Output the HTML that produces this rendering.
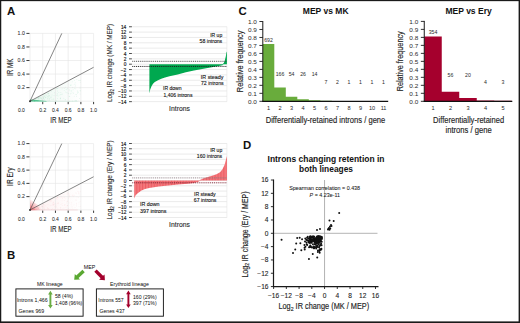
<!DOCTYPE html>
<html><head><meta charset="utf-8"><style>
html,body{margin:0;padding:0;background:#fff;}
body{width:520px;height:323px;overflow:hidden;}
svg{display:block;font-family:"Liberation Sans", sans-serif;}
</style></head><body>
<svg width="520" height="323" viewBox="0 0 520 323">
<rect x="0" y="0" width="520" height="323" fill="#fff"/>
<defs>
<pattern id="rs" patternUnits="userSpaceOnUse" width="2.9" height="10">
<rect width="2.9" height="10" fill="#f4777c"/><rect width="1.1" height="10" fill="#ec5e64"/>
</pattern>
</defs>
<linearGradient id="hg" x1="0" y1="0" x2="1" y2="0"><stop offset="0" stop-color="#e9f6ef" stop-opacity="1"/><stop offset="1" stop-color="#e9f6ef" stop-opacity="0"/></linearGradient>
<path d="M30.00,101.20 L80.88,74.08 L80.88,101.20 Z" fill="url(#hg)"/>
<line x1="30.00" y1="101.20" x2="30.00" y2="33.40" stroke="#e4e4e4" stroke-width="0.6"/>
<line x1="30.00" y1="101.20" x2="93.60" y2="101.20" stroke="#e4e4e4" stroke-width="0.6"/>
<line x1="42.72" y1="101.20" x2="42.72" y2="33.40" stroke="#e4e4e4" stroke-width="0.6"/>
<line x1="30.00" y1="87.64" x2="93.60" y2="87.64" stroke="#e4e4e4" stroke-width="0.6"/>
<line x1="55.44" y1="101.20" x2="55.44" y2="33.40" stroke="#e4e4e4" stroke-width="0.6"/>
<line x1="30.00" y1="74.08" x2="93.60" y2="74.08" stroke="#e4e4e4" stroke-width="0.6"/>
<line x1="68.16" y1="101.20" x2="68.16" y2="33.40" stroke="#e4e4e4" stroke-width="0.6"/>
<line x1="30.00" y1="60.52" x2="93.60" y2="60.52" stroke="#e4e4e4" stroke-width="0.6"/>
<line x1="80.88" y1="101.20" x2="80.88" y2="33.40" stroke="#e4e4e4" stroke-width="0.6"/>
<line x1="30.00" y1="46.96" x2="93.60" y2="46.96" stroke="#e4e4e4" stroke-width="0.6"/>
<line x1="93.60" y1="101.20" x2="93.60" y2="33.40" stroke="#e4e4e4" stroke-width="0.6"/>
<line x1="30.00" y1="33.40" x2="93.60" y2="33.40" stroke="#e4e4e4" stroke-width="0.6"/>
<circle cx="39.59" cy="97.30" r="0.5" fill="#2cb878" fill-opacity="0.1"/>
<circle cx="69.61" cy="96.35" r="0.5" fill="#2cb878" fill-opacity="0.1"/>
<circle cx="56.81" cy="95.42" r="0.5" fill="#2cb878" fill-opacity="0.1"/>
<circle cx="64.26" cy="88.24" r="0.5" fill="#2cb878" fill-opacity="0.1"/>
<circle cx="37.66" cy="101.10" r="0.5" fill="#2cb878" fill-opacity="0.1"/>
<circle cx="73.05" cy="92.26" r="0.5" fill="#2cb878" fill-opacity="0.1"/>
<circle cx="69.54" cy="101.16" r="0.5" fill="#2cb878" fill-opacity="0.1"/>
<circle cx="54.42" cy="92.75" r="0.5" fill="#2cb878" fill-opacity="0.1"/>
<circle cx="44.09" cy="94.81" r="0.5" fill="#2cb878" fill-opacity="0.1"/>
<circle cx="76.18" cy="100.52" r="0.5" fill="#2cb878" fill-opacity="0.1"/>
<circle cx="34.39" cy="100.06" r="0.5" fill="#2cb878" fill-opacity="0.1"/>
<circle cx="77.98" cy="92.43" r="0.5" fill="#2cb878" fill-opacity="0.1"/>
<circle cx="43.51" cy="98.46" r="0.5" fill="#2cb878" fill-opacity="0.1"/>
<circle cx="34.57" cy="100.71" r="0.5" fill="#2cb878" fill-opacity="0.1"/>
<circle cx="54.07" cy="95.48" r="0.5" fill="#2cb878" fill-opacity="0.1"/>
<circle cx="44.30" cy="99.62" r="0.5" fill="#2cb878" fill-opacity="0.1"/>
<circle cx="43.62" cy="98.20" r="0.5" fill="#2cb878" fill-opacity="0.1"/>
<circle cx="47.00" cy="101.02" r="0.5" fill="#2cb878" fill-opacity="0.1"/>
<circle cx="73.13" cy="89.69" r="0.5" fill="#2cb878" fill-opacity="0.1"/>
<circle cx="63.82" cy="98.18" r="0.5" fill="#2cb878" fill-opacity="0.1"/>
<circle cx="80.52" cy="80.36" r="0.5" fill="#2cb878" fill-opacity="0.1"/>
<circle cx="38.95" cy="99.77" r="0.5" fill="#2cb878" fill-opacity="0.1"/>
<circle cx="67.59" cy="88.37" r="0.5" fill="#2cb878" fill-opacity="0.1"/>
<circle cx="77.85" cy="91.51" r="0.5" fill="#2cb878" fill-opacity="0.1"/>
<circle cx="72.77" cy="87.45" r="0.5" fill="#2cb878" fill-opacity="0.1"/>
<circle cx="47.65" cy="96.22" r="0.5" fill="#2cb878" fill-opacity="0.1"/>
<circle cx="75.27" cy="82.82" r="0.5" fill="#2cb878" fill-opacity="0.1"/>
<circle cx="57.28" cy="93.49" r="0.5" fill="#2cb878" fill-opacity="0.1"/>
<circle cx="34.83" cy="100.64" r="0.5" fill="#2cb878" fill-opacity="0.1"/>
<circle cx="71.22" cy="93.01" r="0.5" fill="#2cb878" fill-opacity="0.1"/>
<circle cx="41.43" cy="98.19" r="0.5" fill="#2cb878" fill-opacity="0.1"/>
<circle cx="66.72" cy="89.32" r="0.5" fill="#2cb878" fill-opacity="0.1"/>
<circle cx="51.05" cy="96.77" r="0.5" fill="#2cb878" fill-opacity="0.1"/>
<circle cx="57.43" cy="90.96" r="0.5" fill="#2cb878" fill-opacity="0.1"/>
<circle cx="58.03" cy="95.91" r="0.5" fill="#2cb878" fill-opacity="0.1"/>
<circle cx="56.54" cy="100.82" r="0.5" fill="#2cb878" fill-opacity="0.1"/>
<circle cx="35.25" cy="99.43" r="0.5" fill="#2cb878" fill-opacity="0.1"/>
<circle cx="80.08" cy="86.95" r="0.5" fill="#2cb878" fill-opacity="0.1"/>
<circle cx="51.95" cy="99.41" r="0.5" fill="#2cb878" fill-opacity="0.1"/>
<circle cx="57.14" cy="88.42" r="0.5" fill="#2cb878" fill-opacity="0.1"/>
<circle cx="69.93" cy="90.86" r="0.5" fill="#2cb878" fill-opacity="0.1"/>
<circle cx="74.22" cy="96.28" r="0.5" fill="#2cb878" fill-opacity="0.1"/>
<circle cx="57.69" cy="88.55" r="0.5" fill="#2cb878" fill-opacity="0.1"/>
<circle cx="60.74" cy="94.43" r="0.5" fill="#2cb878" fill-opacity="0.1"/>
<circle cx="46.02" cy="96.99" r="0.5" fill="#2cb878" fill-opacity="0.1"/>
<circle cx="78.83" cy="101.07" r="0.5" fill="#2cb878" fill-opacity="0.1"/>
<circle cx="70.56" cy="85.24" r="0.5" fill="#2cb878" fill-opacity="0.1"/>
<circle cx="75.45" cy="85.05" r="0.5" fill="#2cb878" fill-opacity="0.1"/>
<circle cx="71.78" cy="90.81" r="0.5" fill="#2cb878" fill-opacity="0.1"/>
<circle cx="59.96" cy="95.08" r="0.5" fill="#2cb878" fill-opacity="0.1"/>
<circle cx="35.86" cy="98.76" r="0.5" fill="#2cb878" fill-opacity="0.1"/>
<circle cx="60.37" cy="98.29" r="0.5" fill="#2cb878" fill-opacity="0.1"/>
<circle cx="57.26" cy="94.86" r="0.5" fill="#2cb878" fill-opacity="0.1"/>
<circle cx="50.20" cy="97.85" r="0.5" fill="#2cb878" fill-opacity="0.1"/>
<circle cx="58.87" cy="92.57" r="0.5" fill="#2cb878" fill-opacity="0.1"/>
<circle cx="62.39" cy="94.08" r="0.5" fill="#2cb878" fill-opacity="0.1"/>
<circle cx="34.51" cy="100.70" r="0.5" fill="#2cb878" fill-opacity="0.1"/>
<circle cx="41.63" cy="97.94" r="0.5" fill="#2cb878" fill-opacity="0.1"/>
<circle cx="74.25" cy="84.25" r="0.5" fill="#2cb878" fill-opacity="0.1"/>
<circle cx="71.20" cy="85.06" r="0.5" fill="#2cb878" fill-opacity="0.1"/>
<circle cx="45.36" cy="95.00" r="0.5" fill="#2cb878" fill-opacity="0.1"/>
<circle cx="65.29" cy="99.79" r="0.5" fill="#2cb878" fill-opacity="0.1"/>
<circle cx="33.98" cy="101.17" r="0.5" fill="#2cb878" fill-opacity="0.1"/>
<circle cx="69.22" cy="96.50" r="0.5" fill="#2cb878" fill-opacity="0.1"/>
<circle cx="38.40" cy="98.68" r="0.5" fill="#2cb878" fill-opacity="0.1"/>
<circle cx="49.61" cy="100.55" r="0.5" fill="#2cb878" fill-opacity="0.1"/>
<circle cx="40.79" cy="98.47" r="0.5" fill="#2cb878" fill-opacity="0.1"/>
<circle cx="41.20" cy="99.73" r="0.5" fill="#2cb878" fill-opacity="0.1"/>
<circle cx="67.12" cy="93.10" r="0.5" fill="#2cb878" fill-opacity="0.1"/>
<circle cx="48.54" cy="96.99" r="0.5" fill="#2cb878" fill-opacity="0.1"/>
<circle cx="34.31" cy="100.40" r="0.5" fill="#2cb878" fill-opacity="0.1"/>
<circle cx="53.26" cy="99.10" r="0.5" fill="#2cb878" fill-opacity="0.1"/>
<circle cx="38.37" cy="97.59" r="0.5" fill="#2cb878" fill-opacity="0.1"/>
<circle cx="57.51" cy="98.44" r="0.5" fill="#2cb878" fill-opacity="0.1"/>
<circle cx="62.07" cy="88.63" r="0.5" fill="#2cb878" fill-opacity="0.1"/>
<circle cx="34.17" cy="101.16" r="0.5" fill="#2cb878" fill-opacity="0.1"/>
<circle cx="40.17" cy="97.69" r="0.5" fill="#2cb878" fill-opacity="0.1"/>
<circle cx="40.82" cy="97.54" r="0.5" fill="#2cb878" fill-opacity="0.1"/>
<circle cx="65.53" cy="91.92" r="0.5" fill="#2cb878" fill-opacity="0.1"/>
<circle cx="43.70" cy="94.79" r="0.5" fill="#2cb878" fill-opacity="0.1"/>
<circle cx="71.24" cy="90.98" r="0.5" fill="#2cb878" fill-opacity="0.1"/>
<circle cx="43.83" cy="96.90" r="0.5" fill="#2cb878" fill-opacity="0.1"/>
<circle cx="52.02" cy="95.12" r="0.5" fill="#2cb878" fill-opacity="0.1"/>
<circle cx="48.50" cy="95.60" r="0.5" fill="#2cb878" fill-opacity="0.1"/>
<circle cx="35.98" cy="100.34" r="0.5" fill="#2cb878" fill-opacity="0.1"/>
<circle cx="79.35" cy="80.47" r="0.5" fill="#2cb878" fill-opacity="0.1"/>
<circle cx="47.79" cy="93.87" r="0.5" fill="#2cb878" fill-opacity="0.1"/>
<circle cx="47.98" cy="93.10" r="0.5" fill="#2cb878" fill-opacity="0.1"/>
<circle cx="68.66" cy="93.48" r="0.5" fill="#2cb878" fill-opacity="0.1"/>
<circle cx="45.22" cy="101.14" r="0.5" fill="#2cb878" fill-opacity="0.1"/>
<circle cx="75.09" cy="100.38" r="0.5" fill="#2cb878" fill-opacity="0.1"/>
<circle cx="72.27" cy="81.69" r="0.5" fill="#2cb878" fill-opacity="0.1"/>
<circle cx="60.38" cy="98.70" r="0.5" fill="#2cb878" fill-opacity="0.1"/>
<circle cx="74.57" cy="80.38" r="0.5" fill="#2cb878" fill-opacity="0.1"/>
<circle cx="66.76" cy="92.23" r="0.5" fill="#2cb878" fill-opacity="0.1"/>
<circle cx="51.21" cy="97.67" r="0.5" fill="#2cb878" fill-opacity="0.1"/>
<circle cx="42.99" cy="97.00" r="0.5" fill="#2cb878" fill-opacity="0.1"/>
<circle cx="53.83" cy="98.98" r="0.5" fill="#2cb878" fill-opacity="0.1"/>
<circle cx="38.16" cy="98.59" r="0.5" fill="#2cb878" fill-opacity="0.1"/>
<circle cx="47.30" cy="97.05" r="0.5" fill="#2cb878" fill-opacity="0.1"/>
<circle cx="48.70" cy="93.38" r="0.5" fill="#2cb878" fill-opacity="0.1"/>
<circle cx="76.09" cy="100.80" r="0.5" fill="#2cb878" fill-opacity="0.1"/>
<circle cx="42.76" cy="99.19" r="0.5" fill="#2cb878" fill-opacity="0.1"/>
<circle cx="80.26" cy="82.33" r="0.5" fill="#2cb878" fill-opacity="0.1"/>
<circle cx="49.35" cy="99.22" r="0.5" fill="#2cb878" fill-opacity="0.1"/>
<circle cx="65.35" cy="86.99" r="0.5" fill="#2cb878" fill-opacity="0.1"/>
<circle cx="77.65" cy="93.34" r="0.5" fill="#2cb878" fill-opacity="0.1"/>
<circle cx="75.27" cy="86.28" r="0.5" fill="#2cb878" fill-opacity="0.1"/>
<circle cx="56.29" cy="88.77" r="0.5" fill="#2cb878" fill-opacity="0.1"/>
<circle cx="44.37" cy="96.20" r="0.5" fill="#2cb878" fill-opacity="0.1"/>
<circle cx="37.22" cy="100.61" r="0.5" fill="#2cb878" fill-opacity="0.1"/>
<circle cx="76.63" cy="96.44" r="0.5" fill="#2cb878" fill-opacity="0.1"/>
<circle cx="69.39" cy="89.86" r="0.5" fill="#2cb878" fill-opacity="0.1"/>
<circle cx="73.30" cy="93.55" r="0.5" fill="#2cb878" fill-opacity="0.1"/>
<circle cx="49.41" cy="98.49" r="0.5" fill="#2cb878" fill-opacity="0.1"/>
<circle cx="74.56" cy="88.29" r="0.5" fill="#2cb878" fill-opacity="0.1"/>
<circle cx="78.70" cy="80.47" r="0.5" fill="#2cb878" fill-opacity="0.1"/>
<circle cx="39.64" cy="98.65" r="0.5" fill="#2cb878" fill-opacity="0.1"/>
<circle cx="38.15" cy="101.05" r="0.5" fill="#2cb878" fill-opacity="0.1"/>
<circle cx="36.67" cy="98.43" r="0.5" fill="#2cb878" fill-opacity="0.1"/>
<circle cx="70.77" cy="84.99" r="0.5" fill="#2cb878" fill-opacity="0.1"/>
<circle cx="49.44" cy="95.46" r="0.5" fill="#2cb878" fill-opacity="0.1"/>
<circle cx="70.48" cy="93.86" r="0.5" fill="#2cb878" fill-opacity="0.1"/>
<circle cx="60.41" cy="97.94" r="0.5" fill="#2cb878" fill-opacity="0.1"/>
<circle cx="37.08" cy="100.29" r="0.5" fill="#2cb878" fill-opacity="0.1"/>
<circle cx="75.67" cy="88.83" r="0.5" fill="#2cb878" fill-opacity="0.1"/>
<circle cx="77.31" cy="90.81" r="0.5" fill="#2cb878" fill-opacity="0.1"/>
<circle cx="46.40" cy="95.01" r="0.5" fill="#2cb878" fill-opacity="0.1"/>
<circle cx="72.66" cy="100.95" r="0.5" fill="#2cb878" fill-opacity="0.1"/>
<circle cx="65.16" cy="99.65" r="0.5" fill="#2cb878" fill-opacity="0.1"/>
<circle cx="38.67" cy="97.52" r="0.5" fill="#2cb878" fill-opacity="0.1"/>
<circle cx="35.09" cy="100.61" r="0.5" fill="#2cb878" fill-opacity="0.1"/>
<circle cx="80.32" cy="91.04" r="0.5" fill="#2cb878" fill-opacity="0.1"/>
<circle cx="38.69" cy="100.50" r="0.5" fill="#2cb878" fill-opacity="0.1"/>
<circle cx="44.70" cy="95.95" r="0.5" fill="#2cb878" fill-opacity="0.1"/>
<circle cx="38.09" cy="97.67" r="0.5" fill="#2cb878" fill-opacity="0.1"/>
<circle cx="51.22" cy="91.32" r="0.5" fill="#2cb878" fill-opacity="0.1"/>
<circle cx="76.55" cy="94.63" r="0.5" fill="#2cb878" fill-opacity="0.1"/>
<circle cx="45.27" cy="97.71" r="0.5" fill="#2cb878" fill-opacity="0.1"/>
<circle cx="37.96" cy="98.71" r="0.5" fill="#2cb878" fill-opacity="0.1"/>
<circle cx="35.07" cy="101.17" r="0.5" fill="#2cb878" fill-opacity="0.1"/>
<circle cx="80.05" cy="94.10" r="0.5" fill="#2cb878" fill-opacity="0.1"/>
<circle cx="61.64" cy="94.37" r="0.5" fill="#2cb878" fill-opacity="0.1"/>
<circle cx="48.12" cy="100.65" r="0.5" fill="#2cb878" fill-opacity="0.1"/>
<circle cx="76.75" cy="79.45" r="0.5" fill="#2cb878" fill-opacity="0.1"/>
<circle cx="79.44" cy="98.56" r="0.5" fill="#2cb878" fill-opacity="0.1"/>
<circle cx="43.44" cy="97.22" r="0.5" fill="#2cb878" fill-opacity="0.1"/>
<circle cx="79.92" cy="88.20" r="0.5" fill="#2cb878" fill-opacity="0.1"/>
<circle cx="66.01" cy="89.77" r="0.5" fill="#2cb878" fill-opacity="0.1"/>
<circle cx="45.54" cy="97.16" r="0.5" fill="#2cb878" fill-opacity="0.1"/>
<circle cx="47.84" cy="99.09" r="0.5" fill="#2cb878" fill-opacity="0.1"/>
<circle cx="37.06" cy="100.25" r="0.5" fill="#2cb878" fill-opacity="0.1"/>
<circle cx="80.09" cy="90.44" r="0.5" fill="#2cb878" fill-opacity="0.1"/>
<circle cx="64.28" cy="90.62" r="0.5" fill="#2cb878" fill-opacity="0.1"/>
<circle cx="78.05" cy="92.20" r="0.5" fill="#2cb878" fill-opacity="0.1"/>
<circle cx="47.81" cy="98.40" r="0.5" fill="#2cb878" fill-opacity="0.1"/>
<circle cx="48.29" cy="93.77" r="0.5" fill="#2cb878" fill-opacity="0.1"/>
<circle cx="75.80" cy="94.55" r="0.5" fill="#2cb878" fill-opacity="0.1"/>
<circle cx="49.13" cy="96.21" r="0.5" fill="#2cb878" fill-opacity="0.1"/>
<circle cx="60.80" cy="92.40" r="0.5" fill="#2cb878" fill-opacity="0.1"/>
<path d="M30.00,99.60 L36.36,100.00 L46.54,100.90 L46.54,101.50 L30.00,101.60 Z" fill="#2cb878" fill-opacity="0.75"/>
<line x1="30.00" y1="101.30" x2="77.70" y2="101.30" stroke="#2cb878" stroke-width="0.5" stroke-opacity="0.25"/>
<line x1="30.00" y1="101.20" x2="61.80" y2="33.40" stroke="#555" stroke-width="0.72"/>
<line x1="30.00" y1="101.20" x2="93.60" y2="67.30" stroke="#555" stroke-width="0.72"/>
<circle cx="30.00" cy="101.20" r="1.0" fill="#333"/>
<line x1="26.40" y1="87.64" x2="29.50" y2="87.64" stroke="#222" stroke-width="0.9"/>
<text x="24.80" y="89.44" font-size="5.2" text-anchor="end" fill="#2a2a2a" stroke="#2a2a2a" stroke-width="0.05">0.2</text>
<line x1="26.40" y1="74.08" x2="29.50" y2="74.08" stroke="#222" stroke-width="0.9"/>
<text x="24.80" y="75.88" font-size="5.2" text-anchor="end" fill="#2a2a2a" stroke="#2a2a2a" stroke-width="0.05">0.4</text>
<line x1="26.40" y1="60.52" x2="29.50" y2="60.52" stroke="#222" stroke-width="0.9"/>
<text x="24.80" y="62.32" font-size="5.2" text-anchor="end" fill="#2a2a2a" stroke="#2a2a2a" stroke-width="0.05">0.6</text>
<line x1="26.40" y1="46.96" x2="29.50" y2="46.96" stroke="#222" stroke-width="0.9"/>
<text x="24.80" y="48.76" font-size="5.2" text-anchor="end" fill="#2a2a2a" stroke="#2a2a2a" stroke-width="0.05">0.8</text>
<line x1="26.40" y1="33.40" x2="29.50" y2="33.40" stroke="#222" stroke-width="0.9"/>
<text x="24.80" y="35.20" font-size="5.2" text-anchor="end" fill="#2a2a2a" stroke="#2a2a2a" stroke-width="0.05">1.0</text>
<line x1="42.72" y1="101.90" x2="42.72" y2="104.20" stroke="#222" stroke-width="0.9"/>
<text x="42.72" y="111.90" font-size="5.0" text-anchor="middle" fill="#2a2a2a" stroke="#2a2a2a" stroke-width="0.05">0.2</text>
<line x1="55.44" y1="101.90" x2="55.44" y2="104.20" stroke="#222" stroke-width="0.9"/>
<text x="55.44" y="111.90" font-size="5.0" text-anchor="middle" fill="#2a2a2a" stroke="#2a2a2a" stroke-width="0.05">0.4</text>
<line x1="68.16" y1="101.90" x2="68.16" y2="104.20" stroke="#222" stroke-width="0.9"/>
<text x="68.16" y="111.90" font-size="5.0" text-anchor="middle" fill="#2a2a2a" stroke="#2a2a2a" stroke-width="0.05">0.6</text>
<line x1="80.88" y1="101.90" x2="80.88" y2="104.20" stroke="#222" stroke-width="0.9"/>
<text x="80.88" y="111.90" font-size="5.0" text-anchor="middle" fill="#2a2a2a" stroke="#2a2a2a" stroke-width="0.05">0.8</text>
<line x1="93.60" y1="101.90" x2="93.60" y2="104.20" stroke="#222" stroke-width="0.9"/>
<text x="93.60" y="111.90" font-size="5.0" text-anchor="middle" fill="#2a2a2a" stroke="#2a2a2a" stroke-width="0.05">1.0</text>
<text x="21.40" y="111.90" font-size="5.0" text-anchor="middle" fill="#2a2a2a" stroke="#2a2a2a" stroke-width="0.05">0.0</text>
<text x="61.00" y="123.20" font-size="8.2" text-anchor="middle" fill="#2a2a2a" stroke="#2a2a2a" stroke-width="0.12" textLength="21.40" lengthAdjust="spacingAndGlyphs">IR MEP</text>
<text x="13.00" y="67.30" font-size="8.2" text-anchor="middle" fill="#2a2a2a" stroke="#2a2a2a" stroke-width="0.12" textLength="17.20" lengthAdjust="spacingAndGlyphs" transform="rotate(-90 13.00 67.30)">IR MK</text>
<linearGradient id="hr" x1="0" y1="0" x2="1" y2="0"><stop offset="0" stop-color="#fcefef" stop-opacity="1"/><stop offset="1" stop-color="#fcefef" stop-opacity="0"/></linearGradient>
<path d="M30.00,209.90 L80.88,183.38 L80.88,209.90 Z" fill="url(#hr)"/>
<line x1="30.00" y1="209.90" x2="30.00" y2="143.60" stroke="#e4e4e4" stroke-width="0.6"/>
<line x1="30.00" y1="209.90" x2="93.60" y2="209.90" stroke="#e4e4e4" stroke-width="0.6"/>
<line x1="42.72" y1="209.90" x2="42.72" y2="143.60" stroke="#e4e4e4" stroke-width="0.6"/>
<line x1="30.00" y1="196.64" x2="93.60" y2="196.64" stroke="#e4e4e4" stroke-width="0.6"/>
<line x1="55.44" y1="209.90" x2="55.44" y2="143.60" stroke="#e4e4e4" stroke-width="0.6"/>
<line x1="30.00" y1="183.38" x2="93.60" y2="183.38" stroke="#e4e4e4" stroke-width="0.6"/>
<line x1="68.16" y1="209.90" x2="68.16" y2="143.60" stroke="#e4e4e4" stroke-width="0.6"/>
<line x1="30.00" y1="170.12" x2="93.60" y2="170.12" stroke="#e4e4e4" stroke-width="0.6"/>
<line x1="80.88" y1="209.90" x2="80.88" y2="143.60" stroke="#e4e4e4" stroke-width="0.6"/>
<line x1="30.00" y1="156.86" x2="93.60" y2="156.86" stroke="#e4e4e4" stroke-width="0.6"/>
<line x1="93.60" y1="209.90" x2="93.60" y2="143.60" stroke="#e4e4e4" stroke-width="0.6"/>
<line x1="30.00" y1="143.60" x2="93.60" y2="143.60" stroke="#e4e4e4" stroke-width="0.6"/>
<circle cx="78.78" cy="188.21" r="0.5" fill="#ee4a52" fill-opacity="0.06"/>
<circle cx="35.88" cy="209.67" r="0.5" fill="#ee4a52" fill-opacity="0.06"/>
<circle cx="73.03" cy="195.04" r="0.5" fill="#ee4a52" fill-opacity="0.06"/>
<circle cx="65.13" cy="204.82" r="0.5" fill="#ee4a52" fill-opacity="0.06"/>
<circle cx="62.08" cy="200.77" r="0.5" fill="#ee4a52" fill-opacity="0.06"/>
<circle cx="60.90" cy="207.60" r="0.5" fill="#ee4a52" fill-opacity="0.06"/>
<circle cx="53.72" cy="205.52" r="0.5" fill="#ee4a52" fill-opacity="0.06"/>
<circle cx="67.67" cy="192.32" r="0.5" fill="#ee4a52" fill-opacity="0.06"/>
<circle cx="78.47" cy="197.53" r="0.5" fill="#ee4a52" fill-opacity="0.06"/>
<circle cx="54.40" cy="206.83" r="0.5" fill="#ee4a52" fill-opacity="0.06"/>
<circle cx="34.89" cy="209.84" r="0.5" fill="#ee4a52" fill-opacity="0.06"/>
<circle cx="55.36" cy="206.11" r="0.5" fill="#ee4a52" fill-opacity="0.06"/>
<circle cx="51.31" cy="200.99" r="0.5" fill="#ee4a52" fill-opacity="0.06"/>
<circle cx="58.26" cy="202.47" r="0.5" fill="#ee4a52" fill-opacity="0.06"/>
<circle cx="44.44" cy="209.74" r="0.5" fill="#ee4a52" fill-opacity="0.06"/>
<circle cx="48.69" cy="208.70" r="0.5" fill="#ee4a52" fill-opacity="0.06"/>
<circle cx="57.52" cy="197.01" r="0.5" fill="#ee4a52" fill-opacity="0.06"/>
<circle cx="65.35" cy="206.88" r="0.5" fill="#ee4a52" fill-opacity="0.06"/>
<circle cx="75.80" cy="192.78" r="0.5" fill="#ee4a52" fill-opacity="0.06"/>
<circle cx="68.21" cy="193.65" r="0.5" fill="#ee4a52" fill-opacity="0.06"/>
<circle cx="69.57" cy="195.24" r="0.5" fill="#ee4a52" fill-opacity="0.06"/>
<circle cx="50.06" cy="200.67" r="0.5" fill="#ee4a52" fill-opacity="0.06"/>
<circle cx="79.06" cy="206.19" r="0.5" fill="#ee4a52" fill-opacity="0.06"/>
<circle cx="69.15" cy="196.77" r="0.5" fill="#ee4a52" fill-opacity="0.06"/>
<circle cx="55.19" cy="203.63" r="0.5" fill="#ee4a52" fill-opacity="0.06"/>
<circle cx="56.55" cy="198.38" r="0.5" fill="#ee4a52" fill-opacity="0.06"/>
<circle cx="57.07" cy="199.34" r="0.5" fill="#ee4a52" fill-opacity="0.06"/>
<circle cx="50.06" cy="201.59" r="0.5" fill="#ee4a52" fill-opacity="0.06"/>
<circle cx="76.10" cy="199.93" r="0.5" fill="#ee4a52" fill-opacity="0.06"/>
<circle cx="60.26" cy="196.84" r="0.5" fill="#ee4a52" fill-opacity="0.06"/>
<circle cx="67.70" cy="201.29" r="0.5" fill="#ee4a52" fill-opacity="0.06"/>
<circle cx="43.76" cy="207.80" r="0.5" fill="#ee4a52" fill-opacity="0.06"/>
<circle cx="66.55" cy="207.05" r="0.5" fill="#ee4a52" fill-opacity="0.06"/>
<circle cx="76.49" cy="204.05" r="0.5" fill="#ee4a52" fill-opacity="0.06"/>
<circle cx="76.65" cy="203.13" r="0.5" fill="#ee4a52" fill-opacity="0.06"/>
<circle cx="78.85" cy="193.72" r="0.5" fill="#ee4a52" fill-opacity="0.06"/>
<circle cx="57.23" cy="203.29" r="0.5" fill="#ee4a52" fill-opacity="0.06"/>
<circle cx="64.25" cy="200.45" r="0.5" fill="#ee4a52" fill-opacity="0.06"/>
<circle cx="48.05" cy="208.14" r="0.5" fill="#ee4a52" fill-opacity="0.06"/>
<circle cx="57.60" cy="197.81" r="0.5" fill="#ee4a52" fill-opacity="0.06"/>
<circle cx="62.91" cy="208.74" r="0.5" fill="#ee4a52" fill-opacity="0.06"/>
<circle cx="72.31" cy="195.49" r="0.5" fill="#ee4a52" fill-opacity="0.06"/>
<circle cx="76.48" cy="205.73" r="0.5" fill="#ee4a52" fill-opacity="0.06"/>
<circle cx="68.71" cy="208.83" r="0.5" fill="#ee4a52" fill-opacity="0.06"/>
<circle cx="64.32" cy="205.50" r="0.5" fill="#ee4a52" fill-opacity="0.06"/>
<circle cx="43.99" cy="204.15" r="0.5" fill="#ee4a52" fill-opacity="0.06"/>
<circle cx="38.25" cy="207.88" r="0.5" fill="#ee4a52" fill-opacity="0.06"/>
<circle cx="73.91" cy="204.86" r="0.5" fill="#ee4a52" fill-opacity="0.06"/>
<circle cx="43.22" cy="204.44" r="0.5" fill="#ee4a52" fill-opacity="0.06"/>
<circle cx="53.35" cy="202.05" r="0.5" fill="#ee4a52" fill-opacity="0.06"/>
<circle cx="34.70" cy="209.10" r="0.5" fill="#ee4a52" fill-opacity="0.06"/>
<circle cx="41.38" cy="206.31" r="0.5" fill="#ee4a52" fill-opacity="0.06"/>
<circle cx="37.13" cy="206.71" r="0.5" fill="#ee4a52" fill-opacity="0.06"/>
<circle cx="34.39" cy="208.40" r="0.5" fill="#ee4a52" fill-opacity="0.06"/>
<circle cx="34.19" cy="209.40" r="0.5" fill="#ee4a52" fill-opacity="0.06"/>
<circle cx="71.98" cy="206.81" r="0.5" fill="#ee4a52" fill-opacity="0.06"/>
<circle cx="41.94" cy="206.03" r="0.5" fill="#ee4a52" fill-opacity="0.06"/>
<circle cx="51.57" cy="209.46" r="0.5" fill="#ee4a52" fill-opacity="0.06"/>
<circle cx="80.40" cy="206.32" r="0.5" fill="#ee4a52" fill-opacity="0.06"/>
<circle cx="34.91" cy="209.11" r="0.5" fill="#ee4a52" fill-opacity="0.06"/>
<circle cx="62.53" cy="198.57" r="0.5" fill="#ee4a52" fill-opacity="0.06"/>
<circle cx="38.58" cy="208.54" r="0.5" fill="#ee4a52" fill-opacity="0.06"/>
<circle cx="34.65" cy="208.92" r="0.5" fill="#ee4a52" fill-opacity="0.06"/>
<circle cx="69.72" cy="196.11" r="0.5" fill="#ee4a52" fill-opacity="0.06"/>
<circle cx="76.21" cy="193.52" r="0.5" fill="#ee4a52" fill-opacity="0.06"/>
<circle cx="74.32" cy="195.24" r="0.5" fill="#ee4a52" fill-opacity="0.06"/>
<circle cx="55.73" cy="207.18" r="0.5" fill="#ee4a52" fill-opacity="0.06"/>
<circle cx="64.70" cy="204.75" r="0.5" fill="#ee4a52" fill-opacity="0.06"/>
<circle cx="38.05" cy="208.21" r="0.5" fill="#ee4a52" fill-opacity="0.06"/>
<circle cx="74.91" cy="207.21" r="0.5" fill="#ee4a52" fill-opacity="0.06"/>
<circle cx="61.08" cy="204.17" r="0.5" fill="#ee4a52" fill-opacity="0.06"/>
<circle cx="57.74" cy="208.03" r="0.5" fill="#ee4a52" fill-opacity="0.06"/>
<circle cx="78.96" cy="203.95" r="0.5" fill="#ee4a52" fill-opacity="0.06"/>
<circle cx="62.09" cy="203.58" r="0.5" fill="#ee4a52" fill-opacity="0.06"/>
<circle cx="34.04" cy="208.84" r="0.5" fill="#ee4a52" fill-opacity="0.06"/>
<circle cx="39.89" cy="209.64" r="0.5" fill="#ee4a52" fill-opacity="0.06"/>
<circle cx="34.78" cy="209.54" r="0.5" fill="#ee4a52" fill-opacity="0.06"/>
<circle cx="37.75" cy="207.59" r="0.5" fill="#ee4a52" fill-opacity="0.06"/>
<circle cx="57.42" cy="197.25" r="0.5" fill="#ee4a52" fill-opacity="0.06"/>
<circle cx="77.74" cy="187.63" r="0.5" fill="#ee4a52" fill-opacity="0.06"/>
<circle cx="44.27" cy="206.92" r="0.5" fill="#ee4a52" fill-opacity="0.06"/>
<circle cx="45.14" cy="205.70" r="0.5" fill="#ee4a52" fill-opacity="0.06"/>
<circle cx="62.95" cy="197.53" r="0.5" fill="#ee4a52" fill-opacity="0.06"/>
<circle cx="67.02" cy="205.44" r="0.5" fill="#ee4a52" fill-opacity="0.06"/>
<circle cx="53.36" cy="204.13" r="0.5" fill="#ee4a52" fill-opacity="0.06"/>
<circle cx="33.41" cy="209.84" r="0.5" fill="#ee4a52" fill-opacity="0.06"/>
<circle cx="52.68" cy="208.72" r="0.5" fill="#ee4a52" fill-opacity="0.06"/>
<circle cx="67.70" cy="205.64" r="0.5" fill="#ee4a52" fill-opacity="0.06"/>
<circle cx="37.94" cy="209.22" r="0.5" fill="#ee4a52" fill-opacity="0.06"/>
<circle cx="44.22" cy="208.45" r="0.5" fill="#ee4a52" fill-opacity="0.06"/>
<circle cx="58.02" cy="203.80" r="0.5" fill="#ee4a52" fill-opacity="0.06"/>
<circle cx="47.95" cy="204.49" r="0.5" fill="#ee4a52" fill-opacity="0.06"/>
<circle cx="43.31" cy="204.24" r="0.5" fill="#ee4a52" fill-opacity="0.06"/>
<circle cx="79.12" cy="193.10" r="0.5" fill="#ee4a52" fill-opacity="0.06"/>
<circle cx="53.87" cy="204.17" r="0.5" fill="#ee4a52" fill-opacity="0.06"/>
<circle cx="60.90" cy="209.16" r="0.5" fill="#ee4a52" fill-opacity="0.06"/>
<circle cx="53.12" cy="204.21" r="0.5" fill="#ee4a52" fill-opacity="0.06"/>
<circle cx="41.82" cy="209.38" r="0.5" fill="#ee4a52" fill-opacity="0.06"/>
<circle cx="71.47" cy="202.78" r="0.5" fill="#ee4a52" fill-opacity="0.06"/>
<circle cx="57.95" cy="197.82" r="0.5" fill="#ee4a52" fill-opacity="0.06"/>
<circle cx="62.30" cy="205.51" r="0.5" fill="#ee4a52" fill-opacity="0.06"/>
<circle cx="80.09" cy="201.15" r="0.5" fill="#ee4a52" fill-opacity="0.06"/>
<circle cx="34.09" cy="208.59" r="0.5" fill="#ee4a52" fill-opacity="0.06"/>
<circle cx="38.01" cy="208.75" r="0.5" fill="#ee4a52" fill-opacity="0.06"/>
<circle cx="73.28" cy="196.25" r="0.5" fill="#ee4a52" fill-opacity="0.06"/>
<circle cx="33.93" cy="209.07" r="0.5" fill="#ee4a52" fill-opacity="0.06"/>
<circle cx="52.77" cy="204.71" r="0.5" fill="#ee4a52" fill-opacity="0.06"/>
<circle cx="43.11" cy="206.28" r="0.5" fill="#ee4a52" fill-opacity="0.06"/>
<circle cx="36.70" cy="209.01" r="0.5" fill="#ee4a52" fill-opacity="0.06"/>
<circle cx="50.97" cy="200.70" r="0.5" fill="#ee4a52" fill-opacity="0.06"/>
<circle cx="36.83" cy="207.48" r="0.5" fill="#ee4a52" fill-opacity="0.06"/>
<circle cx="42.36" cy="206.59" r="0.5" fill="#ee4a52" fill-opacity="0.06"/>
<circle cx="51.87" cy="205.15" r="0.5" fill="#ee4a52" fill-opacity="0.06"/>
<circle cx="69.13" cy="202.65" r="0.5" fill="#ee4a52" fill-opacity="0.06"/>
<circle cx="38.99" cy="209.39" r="0.5" fill="#ee4a52" fill-opacity="0.06"/>
<circle cx="37.02" cy="207.10" r="0.5" fill="#ee4a52" fill-opacity="0.06"/>
<circle cx="63.76" cy="194.70" r="0.5" fill="#ee4a52" fill-opacity="0.06"/>
<circle cx="66.22" cy="209.48" r="0.5" fill="#ee4a52" fill-opacity="0.06"/>
<circle cx="64.62" cy="197.28" r="0.5" fill="#ee4a52" fill-opacity="0.06"/>
<circle cx="67.69" cy="201.10" r="0.5" fill="#ee4a52" fill-opacity="0.06"/>
<circle cx="50.24" cy="205.56" r="0.5" fill="#ee4a52" fill-opacity="0.06"/>
<circle cx="71.28" cy="204.69" r="0.5" fill="#ee4a52" fill-opacity="0.06"/>
<circle cx="58.28" cy="203.56" r="0.5" fill="#ee4a52" fill-opacity="0.06"/>
<circle cx="78.72" cy="191.52" r="0.5" fill="#ee4a52" fill-opacity="0.06"/>
<circle cx="77.64" cy="191.22" r="0.5" fill="#ee4a52" fill-opacity="0.06"/>
<circle cx="47.34" cy="208.02" r="0.5" fill="#ee4a52" fill-opacity="0.06"/>
<circle cx="56.50" cy="206.68" r="0.5" fill="#ee4a52" fill-opacity="0.06"/>
<circle cx="53.58" cy="202.39" r="0.5" fill="#ee4a52" fill-opacity="0.06"/>
<circle cx="77.00" cy="196.98" r="0.5" fill="#ee4a52" fill-opacity="0.06"/>
<circle cx="72.19" cy="208.00" r="0.5" fill="#ee4a52" fill-opacity="0.06"/>
<circle cx="50.16" cy="200.46" r="0.5" fill="#ee4a52" fill-opacity="0.06"/>
<circle cx="40.17" cy="207.91" r="0.5" fill="#ee4a52" fill-opacity="0.06"/>
<circle cx="36.37" cy="209.64" r="0.5" fill="#ee4a52" fill-opacity="0.06"/>
<circle cx="75.90" cy="188.61" r="0.5" fill="#ee4a52" fill-opacity="0.06"/>
<circle cx="64.09" cy="207.84" r="0.5" fill="#ee4a52" fill-opacity="0.06"/>
<circle cx="47.32" cy="208.02" r="0.5" fill="#ee4a52" fill-opacity="0.06"/>
<circle cx="65.17" cy="198.66" r="0.5" fill="#ee4a52" fill-opacity="0.06"/>
<circle cx="54.11" cy="203.97" r="0.5" fill="#ee4a52" fill-opacity="0.06"/>
<circle cx="38.53" cy="207.74" r="0.5" fill="#ee4a52" fill-opacity="0.06"/>
<circle cx="78.49" cy="192.71" r="0.5" fill="#ee4a52" fill-opacity="0.06"/>
<circle cx="37.77" cy="208.02" r="0.5" fill="#ee4a52" fill-opacity="0.06"/>
<circle cx="67.30" cy="205.40" r="0.5" fill="#ee4a52" fill-opacity="0.06"/>
<circle cx="75.87" cy="199.98" r="0.5" fill="#ee4a52" fill-opacity="0.06"/>
<circle cx="66.72" cy="202.94" r="0.5" fill="#ee4a52" fill-opacity="0.06"/>
<circle cx="80.65" cy="191.30" r="0.5" fill="#ee4a52" fill-opacity="0.06"/>
<circle cx="60.53" cy="207.83" r="0.5" fill="#ee4a52" fill-opacity="0.06"/>
<circle cx="54.22" cy="209.57" r="0.5" fill="#ee4a52" fill-opacity="0.06"/>
<circle cx="61.57" cy="196.84" r="0.5" fill="#ee4a52" fill-opacity="0.06"/>
<circle cx="41.79" cy="207.08" r="0.5" fill="#ee4a52" fill-opacity="0.06"/>
<circle cx="56.19" cy="204.92" r="0.5" fill="#ee4a52" fill-opacity="0.06"/>
<circle cx="67.07" cy="193.61" r="0.5" fill="#ee4a52" fill-opacity="0.06"/>
<circle cx="66.83" cy="201.74" r="0.5" fill="#ee4a52" fill-opacity="0.06"/>
<circle cx="79.07" cy="202.29" r="0.5" fill="#ee4a52" fill-opacity="0.06"/>
<circle cx="68.75" cy="197.93" r="0.5" fill="#ee4a52" fill-opacity="0.06"/>
<circle cx="69.51" cy="194.11" r="0.5" fill="#ee4a52" fill-opacity="0.06"/>
<circle cx="43.91" cy="205.85" r="0.5" fill="#ee4a52" fill-opacity="0.06"/>
<circle cx="52.39" cy="202.89" r="0.5" fill="#ee4a52" fill-opacity="0.06"/>
<circle cx="79.79" cy="195.07" r="0.5" fill="#ee4a52" fill-opacity="0.06"/>
<circle cx="33.73" cy="209.09" r="0.5" fill="#ee4a52" fill-opacity="0.06"/>
<circle cx="67.12" cy="194.52" r="0.5" fill="#ee4a52" fill-opacity="0.06"/>
<radialGradient id="rb" cx="30.00" cy="209.90" r="11" gradientUnits="userSpaceOnUse"><stop offset="0" stop-color="#ee4a52" stop-opacity="0.85"/><stop offset="0.5" stop-color="#ee4a52" stop-opacity="0.35"/><stop offset="1" stop-color="#ee4a52" stop-opacity="0"/></radialGradient>
<path d="M30.00,210.30 L41.00,210.30 L40.00,205.90 L35.00,202.90 L31.50,199.90 L30.00,199.90 Z" fill="url(#rb)"/>
<line x1="30.00" y1="210.00" x2="77.70" y2="210.00" stroke="#ee4a52" stroke-width="0.5" stroke-opacity="0.25"/>
<line x1="30.00" y1="209.90" x2="61.80" y2="143.60" stroke="#555" stroke-width="0.72"/>
<line x1="30.00" y1="209.90" x2="93.60" y2="176.75" stroke="#555" stroke-width="0.72"/>
<circle cx="30.00" cy="209.90" r="1.0" fill="#333"/>
<line x1="26.40" y1="196.64" x2="29.50" y2="196.64" stroke="#222" stroke-width="0.9"/>
<text x="24.80" y="198.44" font-size="5.2" text-anchor="end" fill="#2a2a2a" stroke="#2a2a2a" stroke-width="0.05">0.2</text>
<line x1="26.40" y1="183.38" x2="29.50" y2="183.38" stroke="#222" stroke-width="0.9"/>
<text x="24.80" y="185.18" font-size="5.2" text-anchor="end" fill="#2a2a2a" stroke="#2a2a2a" stroke-width="0.05">0.4</text>
<line x1="26.40" y1="170.12" x2="29.50" y2="170.12" stroke="#222" stroke-width="0.9"/>
<text x="24.80" y="171.92" font-size="5.2" text-anchor="end" fill="#2a2a2a" stroke="#2a2a2a" stroke-width="0.05">0.6</text>
<line x1="26.40" y1="156.86" x2="29.50" y2="156.86" stroke="#222" stroke-width="0.9"/>
<text x="24.80" y="158.66" font-size="5.2" text-anchor="end" fill="#2a2a2a" stroke="#2a2a2a" stroke-width="0.05">0.8</text>
<line x1="26.40" y1="143.60" x2="29.50" y2="143.60" stroke="#222" stroke-width="0.9"/>
<text x="24.80" y="145.40" font-size="5.2" text-anchor="end" fill="#2a2a2a" stroke="#2a2a2a" stroke-width="0.05">1.0</text>
<line x1="42.72" y1="210.60" x2="42.72" y2="212.90" stroke="#222" stroke-width="0.9"/>
<text x="42.72" y="220.60" font-size="5.0" text-anchor="middle" fill="#2a2a2a" stroke="#2a2a2a" stroke-width="0.05">0.2</text>
<line x1="55.44" y1="210.60" x2="55.44" y2="212.90" stroke="#222" stroke-width="0.9"/>
<text x="55.44" y="220.60" font-size="5.0" text-anchor="middle" fill="#2a2a2a" stroke="#2a2a2a" stroke-width="0.05">0.4</text>
<line x1="68.16" y1="210.60" x2="68.16" y2="212.90" stroke="#222" stroke-width="0.9"/>
<text x="68.16" y="220.60" font-size="5.0" text-anchor="middle" fill="#2a2a2a" stroke="#2a2a2a" stroke-width="0.05">0.6</text>
<line x1="80.88" y1="210.60" x2="80.88" y2="212.90" stroke="#222" stroke-width="0.9"/>
<text x="80.88" y="220.60" font-size="5.0" text-anchor="middle" fill="#2a2a2a" stroke="#2a2a2a" stroke-width="0.05">0.8</text>
<line x1="93.60" y1="210.60" x2="93.60" y2="212.90" stroke="#222" stroke-width="0.9"/>
<text x="93.60" y="220.60" font-size="5.0" text-anchor="middle" fill="#2a2a2a" stroke="#2a2a2a" stroke-width="0.05">1.0</text>
<text x="21.40" y="220.60" font-size="5.0" text-anchor="middle" fill="#2a2a2a" stroke="#2a2a2a" stroke-width="0.05">0.0</text>
<text x="61.00" y="231.90" font-size="8.2" text-anchor="middle" fill="#2a2a2a" stroke="#2a2a2a" stroke-width="0.12" textLength="21.40" lengthAdjust="spacingAndGlyphs">IR MEP</text>
<text x="13.00" y="176.75" font-size="8.2" text-anchor="middle" fill="#2a2a2a" stroke="#2a2a2a" stroke-width="0.12" textLength="18.40" lengthAdjust="spacingAndGlyphs" transform="rotate(-90 13.00 176.75)">IR Ery</text>
<line x1="132.20" y1="101.65" x2="226.90" y2="101.65" stroke="#dedede" stroke-width="0.6"/>
<line x1="132.20" y1="96.30" x2="226.90" y2="96.30" stroke="#dedede" stroke-width="0.6"/>
<line x1="132.20" y1="90.95" x2="226.90" y2="90.95" stroke="#dedede" stroke-width="0.6"/>
<line x1="132.20" y1="85.60" x2="226.90" y2="85.60" stroke="#dedede" stroke-width="0.6"/>
<line x1="132.20" y1="80.25" x2="226.90" y2="80.25" stroke="#dedede" stroke-width="0.6"/>
<line x1="132.20" y1="74.90" x2="226.90" y2="74.90" stroke="#dedede" stroke-width="0.6"/>
<line x1="132.20" y1="69.55" x2="226.90" y2="69.55" stroke="#dedede" stroke-width="0.6"/>
<line x1="132.20" y1="64.20" x2="226.90" y2="64.20" stroke="#dedede" stroke-width="0.6"/>
<line x1="132.20" y1="58.85" x2="226.90" y2="58.85" stroke="#dedede" stroke-width="0.6"/>
<line x1="132.20" y1="53.50" x2="226.90" y2="53.50" stroke="#dedede" stroke-width="0.6"/>
<line x1="132.20" y1="48.15" x2="226.90" y2="48.15" stroke="#dedede" stroke-width="0.6"/>
<line x1="132.20" y1="42.80" x2="226.90" y2="42.80" stroke="#dedede" stroke-width="0.6"/>
<line x1="132.20" y1="37.45" x2="226.90" y2="37.45" stroke="#dedede" stroke-width="0.6"/>
<line x1="132.20" y1="32.10" x2="226.90" y2="32.10" stroke="#dedede" stroke-width="0.6"/>
<line x1="132.20" y1="26.75" x2="226.90" y2="26.75" stroke="#dedede" stroke-width="0.6"/>
<line x1="226.90" y1="26.75" x2="226.90" y2="101.65" stroke="#e2e2e2" stroke-width="0.6"/>
<path d="M149.40,64.20 L149.40,93.50 L150.20,89.50 L151.50,86.20 L153.00,83.80 L154.80,82.00 L158.00,80.20 L161.30,78.80 L165.00,77.50 L169.50,76.30 L177.70,74.40 L185.90,72.30 L194.00,70.60 L202.20,69.00 L210.40,67.40 L218.60,66.00 L222.50,65.30 L223.50,64.20 Z" fill="#00a84f"/>
<path d="M222.60,64.20 L223.80,63.00 L224.80,60.50 L225.80,56.50 L226.40,52.50 L226.90,51.50 L226.90,64.20 Z" fill="#00a84f"/>
<line x1="132.20" y1="61.30" x2="226.90" y2="61.30" stroke="#3a3a3a" stroke-width="0.85" stroke-dasharray="1.1 0.8"/>
<line x1="132.20" y1="66.45" x2="226.90" y2="66.45" stroke="#1a1a1a" stroke-width="0.9" stroke-dasharray="1.1 0.8"/>
<line x1="129.00" y1="101.65" x2="131.90" y2="101.65" stroke="#222" stroke-width="0.8"/>
<text x="126.30" y="103.65" font-size="4.8" text-anchor="end" fill="#1a1a1a" stroke="#1a1a1a" stroke-width="0.16">−14</text>
<line x1="129.00" y1="96.30" x2="131.90" y2="96.30" stroke="#222" stroke-width="0.8"/>
<text x="126.30" y="98.30" font-size="4.8" text-anchor="end" fill="#1a1a1a" stroke="#1a1a1a" stroke-width="0.16">−12</text>
<line x1="129.00" y1="90.95" x2="131.90" y2="90.95" stroke="#222" stroke-width="0.8"/>
<text x="126.30" y="92.95" font-size="4.8" text-anchor="end" fill="#1a1a1a" stroke="#1a1a1a" stroke-width="0.16">−10</text>
<line x1="129.00" y1="85.60" x2="131.90" y2="85.60" stroke="#222" stroke-width="0.8"/>
<text x="126.30" y="87.60" font-size="4.8" text-anchor="end" fill="#1a1a1a" stroke="#1a1a1a" stroke-width="0.16">−8</text>
<line x1="129.00" y1="80.25" x2="131.90" y2="80.25" stroke="#222" stroke-width="0.8"/>
<text x="126.30" y="82.25" font-size="4.8" text-anchor="end" fill="#1a1a1a" stroke="#1a1a1a" stroke-width="0.16">−6</text>
<line x1="129.00" y1="74.90" x2="131.90" y2="74.90" stroke="#222" stroke-width="0.8"/>
<text x="126.30" y="76.90" font-size="4.8" text-anchor="end" fill="#1a1a1a" stroke="#1a1a1a" stroke-width="0.16">−4</text>
<line x1="129.00" y1="69.55" x2="131.90" y2="69.55" stroke="#222" stroke-width="0.8"/>
<text x="126.30" y="71.55" font-size="4.8" text-anchor="end" fill="#1a1a1a" stroke="#1a1a1a" stroke-width="0.16">−2</text>
<line x1="129.00" y1="64.20" x2="131.90" y2="64.20" stroke="#222" stroke-width="0.8"/>
<text x="126.30" y="66.20" font-size="4.8" text-anchor="end" fill="#1a1a1a" stroke="#1a1a1a" stroke-width="0.16">0</text>
<line x1="129.00" y1="58.85" x2="131.90" y2="58.85" stroke="#222" stroke-width="0.8"/>
<text x="126.30" y="60.85" font-size="4.8" text-anchor="end" fill="#1a1a1a" stroke="#1a1a1a" stroke-width="0.16">2</text>
<line x1="129.00" y1="53.50" x2="131.90" y2="53.50" stroke="#222" stroke-width="0.8"/>
<text x="126.30" y="55.50" font-size="4.8" text-anchor="end" fill="#1a1a1a" stroke="#1a1a1a" stroke-width="0.16">4</text>
<line x1="129.00" y1="48.15" x2="131.90" y2="48.15" stroke="#222" stroke-width="0.8"/>
<text x="126.30" y="50.15" font-size="4.8" text-anchor="end" fill="#1a1a1a" stroke="#1a1a1a" stroke-width="0.16">6</text>
<line x1="129.00" y1="42.80" x2="131.90" y2="42.80" stroke="#222" stroke-width="0.8"/>
<text x="126.30" y="44.80" font-size="4.8" text-anchor="end" fill="#1a1a1a" stroke="#1a1a1a" stroke-width="0.16">8</text>
<line x1="129.00" y1="37.45" x2="131.90" y2="37.45" stroke="#222" stroke-width="0.8"/>
<text x="126.30" y="39.45" font-size="4.8" text-anchor="end" fill="#1a1a1a" stroke="#1a1a1a" stroke-width="0.16">10</text>
<line x1="129.00" y1="32.10" x2="131.90" y2="32.10" stroke="#222" stroke-width="0.8"/>
<text x="126.30" y="34.10" font-size="4.8" text-anchor="end" fill="#1a1a1a" stroke="#1a1a1a" stroke-width="0.16">12</text>
<line x1="129.00" y1="26.75" x2="131.90" y2="26.75" stroke="#222" stroke-width="0.8"/>
<text x="126.30" y="28.75" font-size="4.8" text-anchor="end" fill="#1a1a1a" stroke="#1a1a1a" stroke-width="0.16">14</text>
<text x="222.20" y="36.50" font-size="5.3" text-anchor="end" fill="#151515" stroke="#151515" stroke-width="0.12" textLength="12.00" lengthAdjust="spacingAndGlyphs">IR up</text>
<text x="222.20" y="43.00" font-size="5.3" text-anchor="end" fill="#151515" stroke="#151515" stroke-width="0.12" textLength="22.60" lengthAdjust="spacingAndGlyphs">58 introns</text>
<text x="223.40" y="78.90" font-size="5.3" text-anchor="end" fill="#151515" stroke="#151515" stroke-width="0.12" textLength="22.60" lengthAdjust="spacingAndGlyphs">IR steady</text>
<text x="223.60" y="85.40" font-size="5.3" text-anchor="end" fill="#151515" stroke="#151515" stroke-width="0.12" textLength="22.60" lengthAdjust="spacingAndGlyphs">72 introns</text>
<text x="163.00" y="90.30" font-size="5.3" fill="#151515" stroke="#151515" stroke-width="0.12" textLength="18.60" lengthAdjust="spacingAndGlyphs">IR down</text>
<text x="163.60" y="96.60" font-size="5.3" fill="#151515" stroke="#151515" stroke-width="0.12" textLength="28.80" lengthAdjust="spacingAndGlyphs">1,406 introns</text>
<text x="179.50" y="111.45" font-size="7.2" text-anchor="middle" fill="#2a2a2a" stroke="#2a2a2a" stroke-width="0.12" textLength="20.80" lengthAdjust="spacingAndGlyphs">Introns</text>
<text x="0" y="0" font-size="7.4" text-anchor="middle" fill="#2a2a2a" stroke="#2a2a2a" stroke-width="0.12" transform="translate(112.1 63.00) rotate(-90)" textLength="78.0" lengthAdjust="spacingAndGlyphs">Log<tspan font-size="5.2" dy="1.6">2</tspan><tspan dy="-1.6"> IR change (MK / MEP)</tspan></text>
<line x1="132.20" y1="217.50" x2="226.90" y2="217.50" stroke="#dedede" stroke-width="0.6"/>
<line x1="132.20" y1="212.22" x2="226.90" y2="212.22" stroke="#dedede" stroke-width="0.6"/>
<line x1="132.20" y1="206.93" x2="226.90" y2="206.93" stroke="#dedede" stroke-width="0.6"/>
<line x1="132.20" y1="201.64" x2="226.90" y2="201.64" stroke="#dedede" stroke-width="0.6"/>
<line x1="132.20" y1="196.36" x2="226.90" y2="196.36" stroke="#dedede" stroke-width="0.6"/>
<line x1="132.20" y1="191.07" x2="226.90" y2="191.07" stroke="#dedede" stroke-width="0.6"/>
<line x1="132.20" y1="185.79" x2="226.90" y2="185.79" stroke="#dedede" stroke-width="0.6"/>
<line x1="132.20" y1="180.50" x2="226.90" y2="180.50" stroke="#dedede" stroke-width="0.6"/>
<line x1="132.20" y1="175.21" x2="226.90" y2="175.21" stroke="#dedede" stroke-width="0.6"/>
<line x1="132.20" y1="169.93" x2="226.90" y2="169.93" stroke="#dedede" stroke-width="0.6"/>
<line x1="132.20" y1="164.64" x2="226.90" y2="164.64" stroke="#dedede" stroke-width="0.6"/>
<line x1="132.20" y1="159.36" x2="226.90" y2="159.36" stroke="#dedede" stroke-width="0.6"/>
<line x1="132.20" y1="154.07" x2="226.90" y2="154.07" stroke="#dedede" stroke-width="0.6"/>
<line x1="132.20" y1="148.78" x2="226.90" y2="148.78" stroke="#dedede" stroke-width="0.6"/>
<line x1="132.20" y1="143.50" x2="226.90" y2="143.50" stroke="#dedede" stroke-width="0.6"/>
<line x1="226.90" y1="143.50" x2="226.90" y2="217.50" stroke="#e2e2e2" stroke-width="0.6"/>
<path d="M134.20,180.50 L134.20,198.50 L135.50,195.50 L137.70,193.30 L141.50,190.40 L145.00,189.00 L149.20,188.00 L158.80,186.50 L168.50,185.60 L178.00,184.60 L187.70,183.70 L194.00,182.90 L199.00,181.50 L200.00,180.50 Z" fill="url(#rs)"/>
<path d="M199.00,180.50 L203.00,178.50 L207.00,177.20 L212.00,175.80 L216.50,174.20 L220.00,172.20 L222.30,169.50 L224.50,165.00 L226.00,159.50 L226.90,156.00 L226.90,180.50 Z" fill="url(#rs)"/>
<line x1="132.20" y1="177.90" x2="226.90" y2="177.90" stroke="#8a7a80" stroke-width="0.85" stroke-dasharray="1.1 0.8"/>
<line x1="132.20" y1="182.80" x2="226.90" y2="182.80" stroke="#7a2030" stroke-width="0.9" stroke-dasharray="1.1 0.8"/>
<line x1="129.00" y1="217.50" x2="131.90" y2="217.50" stroke="#222" stroke-width="0.8"/>
<text x="126.30" y="219.50" font-size="4.8" text-anchor="end" fill="#1a1a1a" stroke="#1a1a1a" stroke-width="0.16">−14</text>
<line x1="129.00" y1="212.22" x2="131.90" y2="212.22" stroke="#222" stroke-width="0.8"/>
<text x="126.30" y="214.22" font-size="4.8" text-anchor="end" fill="#1a1a1a" stroke="#1a1a1a" stroke-width="0.16">−12</text>
<line x1="129.00" y1="206.93" x2="131.90" y2="206.93" stroke="#222" stroke-width="0.8"/>
<text x="126.30" y="208.93" font-size="4.8" text-anchor="end" fill="#1a1a1a" stroke="#1a1a1a" stroke-width="0.16">−10</text>
<line x1="129.00" y1="201.64" x2="131.90" y2="201.64" stroke="#222" stroke-width="0.8"/>
<text x="126.30" y="203.64" font-size="4.8" text-anchor="end" fill="#1a1a1a" stroke="#1a1a1a" stroke-width="0.16">−8</text>
<line x1="129.00" y1="196.36" x2="131.90" y2="196.36" stroke="#222" stroke-width="0.8"/>
<text x="126.30" y="198.36" font-size="4.8" text-anchor="end" fill="#1a1a1a" stroke="#1a1a1a" stroke-width="0.16">−6</text>
<line x1="129.00" y1="191.07" x2="131.90" y2="191.07" stroke="#222" stroke-width="0.8"/>
<text x="126.30" y="193.07" font-size="4.8" text-anchor="end" fill="#1a1a1a" stroke="#1a1a1a" stroke-width="0.16">−4</text>
<line x1="129.00" y1="185.79" x2="131.90" y2="185.79" stroke="#222" stroke-width="0.8"/>
<text x="126.30" y="187.79" font-size="4.8" text-anchor="end" fill="#1a1a1a" stroke="#1a1a1a" stroke-width="0.16">−2</text>
<line x1="129.00" y1="180.50" x2="131.90" y2="180.50" stroke="#222" stroke-width="0.8"/>
<text x="126.30" y="182.50" font-size="4.8" text-anchor="end" fill="#1a1a1a" stroke="#1a1a1a" stroke-width="0.16">0</text>
<line x1="129.00" y1="175.21" x2="131.90" y2="175.21" stroke="#222" stroke-width="0.8"/>
<text x="126.30" y="177.21" font-size="4.8" text-anchor="end" fill="#1a1a1a" stroke="#1a1a1a" stroke-width="0.16">2</text>
<line x1="129.00" y1="169.93" x2="131.90" y2="169.93" stroke="#222" stroke-width="0.8"/>
<text x="126.30" y="171.93" font-size="4.8" text-anchor="end" fill="#1a1a1a" stroke="#1a1a1a" stroke-width="0.16">4</text>
<line x1="129.00" y1="164.64" x2="131.90" y2="164.64" stroke="#222" stroke-width="0.8"/>
<text x="126.30" y="166.64" font-size="4.8" text-anchor="end" fill="#1a1a1a" stroke="#1a1a1a" stroke-width="0.16">6</text>
<line x1="129.00" y1="159.36" x2="131.90" y2="159.36" stroke="#222" stroke-width="0.8"/>
<text x="126.30" y="161.36" font-size="4.8" text-anchor="end" fill="#1a1a1a" stroke="#1a1a1a" stroke-width="0.16">8</text>
<line x1="129.00" y1="154.07" x2="131.90" y2="154.07" stroke="#222" stroke-width="0.8"/>
<text x="126.30" y="156.07" font-size="4.8" text-anchor="end" fill="#1a1a1a" stroke="#1a1a1a" stroke-width="0.16">10</text>
<line x1="129.00" y1="148.78" x2="131.90" y2="148.78" stroke="#222" stroke-width="0.8"/>
<text x="126.30" y="150.78" font-size="4.8" text-anchor="end" fill="#1a1a1a" stroke="#1a1a1a" stroke-width="0.16">12</text>
<line x1="129.00" y1="143.50" x2="131.90" y2="143.50" stroke="#222" stroke-width="0.8"/>
<text x="126.30" y="145.50" font-size="4.8" text-anchor="end" fill="#1a1a1a" stroke="#1a1a1a" stroke-width="0.16">14</text>
<text x="222.20" y="152.10" font-size="5.3" text-anchor="end" fill="#151515" stroke="#151515" stroke-width="0.12" textLength="12.00" lengthAdjust="spacingAndGlyphs">IR up</text>
<text x="222.20" y="158.40" font-size="5.3" text-anchor="end" fill="#151515" stroke="#151515" stroke-width="0.12" textLength="25.40" lengthAdjust="spacingAndGlyphs">160 introns</text>
<text x="215.60" y="195.50" font-size="5.3" text-anchor="end" fill="#151515" stroke="#151515" stroke-width="0.12" textLength="21.60" lengthAdjust="spacingAndGlyphs">IR steady</text>
<text x="216.40" y="201.50" font-size="5.3" text-anchor="end" fill="#151515" stroke="#151515" stroke-width="0.12" textLength="22.60" lengthAdjust="spacingAndGlyphs">67 introns</text>
<text x="140.00" y="206.30" font-size="5.3" fill="#151515" stroke="#151515" stroke-width="0.12" textLength="19.60" lengthAdjust="spacingAndGlyphs">IR down</text>
<text x="140.00" y="212.70" font-size="5.3" fill="#151515" stroke="#151515" stroke-width="0.12" textLength="26.40" lengthAdjust="spacingAndGlyphs">397 introns</text>
<text x="179.50" y="227.30" font-size="7.2" text-anchor="middle" fill="#2a2a2a" stroke="#2a2a2a" stroke-width="0.12" textLength="20.80" lengthAdjust="spacingAndGlyphs">Introns</text>
<text x="0" y="0" font-size="7.4" text-anchor="middle" fill="#2a2a2a" stroke="#2a2a2a" stroke-width="0.12" transform="translate(112.1 179.95) rotate(-90)" textLength="79.1" lengthAdjust="spacingAndGlyphs">Log<tspan font-size="5.2" dy="1.6">2</tspan><tspan dy="-1.6"> IR change (Ery / MEP)</tspan></text>
<text x="6.90" y="14.90" font-size="11.4" font-weight="bold" fill="#111">A</text>
<text x="7.00" y="259.30" font-size="11.4" font-weight="bold" fill="#111">B</text>
<text x="238.60" y="14.70" font-size="11.4" font-weight="bold" fill="#111">C</text>
<text x="242.90" y="149.10" font-size="11.4" font-weight="bold" fill="#111">D</text>
<text x="89.50" y="269.00" font-size="5.4" text-anchor="middle" fill="#0a0a0a" textLength="11.40" lengthAdjust="spacingAndGlyphs">MEP</text>
<path d="M82.44,269.76 L76.25,275.55 L74.82,274.02 L74.20,279.80 L80.01,279.57 L78.57,278.03 L84.76,272.24 Z" fill="#5aa832"/>
<path d="M94.29,271.79 L100.61,278.25 L99.11,279.71 L104.90,280.20 L104.54,274.40 L103.04,275.87 L96.71,269.41 Z" fill="#a3002c"/>
<rect x="15.9" y="288.9" width="67.2" height="27.3" fill="none" stroke="#1a1a1a" stroke-width="0.95"/>
<rect x="96.4" y="288.9" width="67.0" height="27.3" fill="none" stroke="#1a1a1a" stroke-width="0.95"/>
<text x="49.80" y="286.00" font-size="5.4" text-anchor="middle" fill="#0a0a0a" textLength="25.70" lengthAdjust="spacingAndGlyphs">MK lineage</text>
<text x="129.40" y="286.40" font-size="5.4" text-anchor="middle" fill="#0a0a0a" textLength="38.80" lengthAdjust="spacingAndGlyphs">Erythroid lineage</text>
<text x="16.90" y="301.70" font-size="5.4" fill="#0a0a0a" textLength="30.80" lengthAdjust="spacingAndGlyphs">Introns 1,466</text>
<text x="18.50" y="312.90" font-size="5.4" fill="#0a0a0a" textLength="25.70" lengthAdjust="spacingAndGlyphs">Genes 969</text>
<text x="54.90" y="298.40" font-size="5.4" fill="#0a0a0a" textLength="18.20" lengthAdjust="spacingAndGlyphs">58 (4%)</text>
<text x="54.90" y="304.50" font-size="5.4" fill="#0a0a0a" textLength="27.40" lengthAdjust="spacingAndGlyphs">1,408 (96%)</text>
<path d="M50.40,290.80 L52.70,294.40 L51.35,294.40 L51.35,305.00 L52.70,305.00 L50.40,308.60 L48.10,305.00 L49.45,305.00 L49.45,294.40 L48.10,294.40 Z" fill="#6aac44"/>
<text x="98.30" y="301.70" font-size="5.4" fill="#0a0a0a" textLength="25.40" lengthAdjust="spacingAndGlyphs">Introns 557</text>
<text x="99.50" y="313.10" font-size="5.4" fill="#0a0a0a" textLength="25.20" lengthAdjust="spacingAndGlyphs">Genes 437</text>
<text x="133.00" y="298.70" font-size="5.4" fill="#0a0a0a" textLength="23.60" lengthAdjust="spacingAndGlyphs">160 (29%)</text>
<text x="133.00" y="304.80" font-size="5.4" fill="#0a0a0a" textLength="23.60" lengthAdjust="spacingAndGlyphs">397 (71%)</text>
<path d="M128.40,290.60 L130.70,294.20 L129.35,294.20 L129.35,304.40 L130.70,304.40 L128.40,308.00 L126.10,304.40 L127.45,304.40 L127.45,294.20 L126.10,294.20 Z" fill="#a3002c"/>
<path d="M262.80,101.30 L262.80,44.08 L274.30,44.08 L274.30,87.57 L285.80,87.57 L285.80,96.83 L297.30,96.83 L297.30,99.15 L308.80,99.15 L308.80,100.14 L320.30,100.14 L320.30,100.72 L331.80,100.72 L331.80,101.13 L343.30,101.13 L343.30,101.22 L354.80,101.22 L354.80,101.22 L366.30,101.22 L366.30,101.22 L377.80,101.22 L377.80,101.22 L389.30,101.22 L389.30,101.30 Z" fill="#69ac3c"/>
<line x1="262.80" y1="21.00" x2="262.80" y2="101.80" stroke="#1a1a1a" stroke-width="1.0"/>
<line x1="259.40" y1="101.30" x2="262.80" y2="101.30" stroke="#1a1a1a" stroke-width="0.9"/>
<text x="256.80" y="103.55" font-size="6.2" text-anchor="end" fill="#2a2a2a" textLength="8.90" lengthAdjust="spacingAndGlyphs">0.0</text>
<line x1="259.40" y1="93.32" x2="262.80" y2="93.32" stroke="#1a1a1a" stroke-width="0.9"/>
<text x="256.80" y="95.57" font-size="6.2" text-anchor="end" fill="#2a2a2a" textLength="8.90" lengthAdjust="spacingAndGlyphs">0.1</text>
<line x1="259.40" y1="85.34" x2="262.80" y2="85.34" stroke="#1a1a1a" stroke-width="0.9"/>
<text x="256.80" y="87.59" font-size="6.2" text-anchor="end" fill="#2a2a2a" textLength="8.90" lengthAdjust="spacingAndGlyphs">0.2</text>
<line x1="259.40" y1="77.36" x2="262.80" y2="77.36" stroke="#1a1a1a" stroke-width="0.9"/>
<text x="256.80" y="79.61" font-size="6.2" text-anchor="end" fill="#2a2a2a" textLength="8.90" lengthAdjust="spacingAndGlyphs">0.3</text>
<line x1="259.40" y1="69.38" x2="262.80" y2="69.38" stroke="#1a1a1a" stroke-width="0.9"/>
<text x="256.80" y="71.63" font-size="6.2" text-anchor="end" fill="#2a2a2a" textLength="8.90" lengthAdjust="spacingAndGlyphs">0.4</text>
<line x1="259.40" y1="61.40" x2="262.80" y2="61.40" stroke="#1a1a1a" stroke-width="0.9"/>
<text x="256.80" y="63.65" font-size="6.2" text-anchor="end" fill="#2a2a2a" textLength="8.90" lengthAdjust="spacingAndGlyphs">0.5</text>
<line x1="259.40" y1="53.42" x2="262.80" y2="53.42" stroke="#1a1a1a" stroke-width="0.9"/>
<text x="256.80" y="55.67" font-size="6.2" text-anchor="end" fill="#2a2a2a" textLength="8.90" lengthAdjust="spacingAndGlyphs">0.6</text>
<line x1="259.40" y1="45.44" x2="262.80" y2="45.44" stroke="#1a1a1a" stroke-width="0.9"/>
<text x="256.80" y="47.69" font-size="6.2" text-anchor="end" fill="#2a2a2a" textLength="8.90" lengthAdjust="spacingAndGlyphs">0.7</text>
<line x1="259.40" y1="37.46" x2="262.80" y2="37.46" stroke="#1a1a1a" stroke-width="0.9"/>
<text x="256.80" y="39.71" font-size="6.2" text-anchor="end" fill="#2a2a2a" textLength="8.90" lengthAdjust="spacingAndGlyphs">0.8</text>
<line x1="259.40" y1="29.48" x2="262.80" y2="29.48" stroke="#1a1a1a" stroke-width="0.9"/>
<text x="256.80" y="31.73" font-size="6.2" text-anchor="end" fill="#2a2a2a" textLength="8.90" lengthAdjust="spacingAndGlyphs">0.9</text>
<line x1="259.40" y1="21.50" x2="262.80" y2="21.50" stroke="#1a1a1a" stroke-width="0.9"/>
<text x="256.80" y="23.75" font-size="6.2" text-anchor="end" fill="#2a2a2a" textLength="8.90" lengthAdjust="spacingAndGlyphs">1.0</text>
<line x1="262.30" y1="101.30" x2="388.20" y2="101.30" stroke="#111" stroke-width="1.35"/>
<text x="268.55" y="110.30" font-size="5.6" text-anchor="middle" fill="#2a2a2a">1</text>
<text x="280.05" y="110.30" font-size="5.6" text-anchor="middle" fill="#2a2a2a">2</text>
<text x="291.55" y="110.30" font-size="5.6" text-anchor="middle" fill="#2a2a2a">3</text>
<text x="303.05" y="110.30" font-size="5.6" text-anchor="middle" fill="#2a2a2a">4</text>
<text x="314.55" y="110.30" font-size="5.6" text-anchor="middle" fill="#2a2a2a">5</text>
<text x="326.05" y="110.30" font-size="5.6" text-anchor="middle" fill="#2a2a2a">6</text>
<text x="337.55" y="110.30" font-size="5.6" text-anchor="middle" fill="#2a2a2a">7</text>
<text x="349.05" y="110.30" font-size="5.6" text-anchor="middle" fill="#2a2a2a">8</text>
<text x="360.55" y="110.30" font-size="5.6" text-anchor="middle" fill="#2a2a2a">9</text>
<text x="372.05" y="110.30" font-size="5.6" text-anchor="middle" fill="#2a2a2a">10</text>
<text x="383.55" y="110.30" font-size="5.6" text-anchor="middle" fill="#2a2a2a">11</text>
<text x="268.55" y="41.80" font-size="5.2" text-anchor="middle" fill="#2a2a2a">692</text>
<text x="280.05" y="76.40" font-size="5.2" text-anchor="middle" fill="#2a2a2a">166</text>
<text x="291.55" y="76.40" font-size="5.2" text-anchor="middle" fill="#2a2a2a">54</text>
<text x="303.05" y="76.40" font-size="5.2" text-anchor="middle" fill="#2a2a2a">26</text>
<text x="314.55" y="76.40" font-size="5.2" text-anchor="middle" fill="#2a2a2a">14</text>
<text x="326.05" y="83.80" font-size="5.2" text-anchor="middle" fill="#2a2a2a">7</text>
<text x="337.55" y="83.80" font-size="5.2" text-anchor="middle" fill="#2a2a2a">2</text>
<text x="349.05" y="83.80" font-size="5.2" text-anchor="middle" fill="#2a2a2a">1</text>
<text x="360.55" y="83.80" font-size="5.2" text-anchor="middle" fill="#2a2a2a">1</text>
<text x="372.05" y="83.80" font-size="5.2" text-anchor="middle" fill="#2a2a2a">1</text>
<text x="383.55" y="83.80" font-size="5.2" text-anchor="middle" fill="#2a2a2a">1</text>
<text x="325.70" y="14.10" font-size="8.5" text-anchor="middle" font-weight="bold" fill="#111" textLength="45.70" lengthAdjust="spacingAndGlyphs">MEP vs MK</text>
<text x="325.50" y="122.50" font-size="8.8" text-anchor="middle" fill="#1e1e1e" stroke="#1e1e1e" stroke-width="0.15" textLength="119.60" lengthAdjust="spacingAndGlyphs">Differentially-retained introns / gene</text>
<text x="0" y="0" font-size="8.3" text-anchor="middle" fill="#1e1e1e" stroke="#1e1e1e" stroke-width="0.15" transform="translate(242.60 61.40) rotate(-90)" textLength="61.5" lengthAdjust="spacingAndGlyphs">Relative frequency</text>
<path d="M424.25,101.30 L424.25,36.50 L441.75,36.50 L441.75,91.87 L459.25,91.87 L459.25,98.10 L476.75,98.10 L476.75,100.58 L494.25,100.58 L494.25,100.74 L511.75,100.74 L511.75,101.30 Z" fill="#a5002d"/>
<line x1="424.25" y1="20.90" x2="424.25" y2="101.80" stroke="#1a1a1a" stroke-width="1.0"/>
<line x1="420.85" y1="101.30" x2="424.25" y2="101.30" stroke="#1a1a1a" stroke-width="0.9"/>
<text x="418.25" y="103.55" font-size="6.2" text-anchor="end" fill="#2a2a2a" textLength="8.90" lengthAdjust="spacingAndGlyphs">0.0</text>
<line x1="420.85" y1="93.31" x2="424.25" y2="93.31" stroke="#1a1a1a" stroke-width="0.9"/>
<text x="418.25" y="95.56" font-size="6.2" text-anchor="end" fill="#2a2a2a" textLength="8.90" lengthAdjust="spacingAndGlyphs">0.1</text>
<line x1="420.85" y1="85.32" x2="424.25" y2="85.32" stroke="#1a1a1a" stroke-width="0.9"/>
<text x="418.25" y="87.57" font-size="6.2" text-anchor="end" fill="#2a2a2a" textLength="8.90" lengthAdjust="spacingAndGlyphs">0.2</text>
<line x1="420.85" y1="77.33" x2="424.25" y2="77.33" stroke="#1a1a1a" stroke-width="0.9"/>
<text x="418.25" y="79.58" font-size="6.2" text-anchor="end" fill="#2a2a2a" textLength="8.90" lengthAdjust="spacingAndGlyphs">0.3</text>
<line x1="420.85" y1="69.34" x2="424.25" y2="69.34" stroke="#1a1a1a" stroke-width="0.9"/>
<text x="418.25" y="71.59" font-size="6.2" text-anchor="end" fill="#2a2a2a" textLength="8.90" lengthAdjust="spacingAndGlyphs">0.4</text>
<line x1="420.85" y1="61.35" x2="424.25" y2="61.35" stroke="#1a1a1a" stroke-width="0.9"/>
<text x="418.25" y="63.60" font-size="6.2" text-anchor="end" fill="#2a2a2a" textLength="8.90" lengthAdjust="spacingAndGlyphs">0.5</text>
<line x1="420.85" y1="53.36" x2="424.25" y2="53.36" stroke="#1a1a1a" stroke-width="0.9"/>
<text x="418.25" y="55.61" font-size="6.2" text-anchor="end" fill="#2a2a2a" textLength="8.90" lengthAdjust="spacingAndGlyphs">0.6</text>
<line x1="420.85" y1="45.37" x2="424.25" y2="45.37" stroke="#1a1a1a" stroke-width="0.9"/>
<text x="418.25" y="47.62" font-size="6.2" text-anchor="end" fill="#2a2a2a" textLength="8.90" lengthAdjust="spacingAndGlyphs">0.7</text>
<line x1="420.85" y1="37.38" x2="424.25" y2="37.38" stroke="#1a1a1a" stroke-width="0.9"/>
<text x="418.25" y="39.63" font-size="6.2" text-anchor="end" fill="#2a2a2a" textLength="8.90" lengthAdjust="spacingAndGlyphs">0.8</text>
<line x1="420.85" y1="29.39" x2="424.25" y2="29.39" stroke="#1a1a1a" stroke-width="0.9"/>
<text x="418.25" y="31.64" font-size="6.2" text-anchor="end" fill="#2a2a2a" textLength="8.90" lengthAdjust="spacingAndGlyphs">0.9</text>
<line x1="420.85" y1="21.40" x2="424.25" y2="21.40" stroke="#1a1a1a" stroke-width="0.9"/>
<text x="418.25" y="23.65" font-size="6.2" text-anchor="end" fill="#2a2a2a" textLength="8.90" lengthAdjust="spacingAndGlyphs">1.0</text>
<line x1="423.75" y1="101.30" x2="512.30" y2="101.30" stroke="#111" stroke-width="1.35"/>
<text x="433.00" y="110.30" font-size="5.6" text-anchor="middle" fill="#2a2a2a">1</text>
<text x="450.50" y="110.30" font-size="5.6" text-anchor="middle" fill="#2a2a2a">2</text>
<text x="468.00" y="110.30" font-size="5.6" text-anchor="middle" fill="#2a2a2a">3</text>
<text x="485.50" y="110.30" font-size="5.6" text-anchor="middle" fill="#2a2a2a">4</text>
<text x="503.00" y="110.30" font-size="5.6" text-anchor="middle" fill="#2a2a2a">5</text>
<text x="433.00" y="34.00" font-size="5.2" text-anchor="middle" fill="#2a2a2a">354</text>
<text x="450.50" y="76.50" font-size="5.2" text-anchor="middle" fill="#2a2a2a">56</text>
<text x="468.00" y="76.50" font-size="5.2" text-anchor="middle" fill="#2a2a2a">20</text>
<text x="485.50" y="83.80" font-size="5.2" text-anchor="middle" fill="#2a2a2a">4</text>
<text x="503.00" y="83.80" font-size="5.2" text-anchor="middle" fill="#2a2a2a">3</text>
<text x="468.60" y="14.10" font-size="8.5" text-anchor="middle" font-weight="bold" fill="#111" textLength="46.30" lengthAdjust="spacingAndGlyphs">MEP vs Ery</text>
<text x="468.60" y="123.10" font-size="8.8" text-anchor="middle" fill="#1e1e1e" stroke="#1e1e1e" stroke-width="0.15" textLength="71.00" lengthAdjust="spacingAndGlyphs">Differentially-retained</text>
<text x="468.60" y="132.80" font-size="8.8" text-anchor="middle" fill="#1e1e1e" stroke="#1e1e1e" stroke-width="0.15" textLength="46.20" lengthAdjust="spacingAndGlyphs">introns / gene</text>
<text x="0" y="0" font-size="8.3" text-anchor="middle" fill="#1e1e1e" stroke="#1e1e1e" stroke-width="0.15" transform="translate(403.20 61.35) rotate(-90)" textLength="60.0" lengthAdjust="spacingAndGlyphs">Relative frequency</text>
<text x="326.00" y="161.80" font-size="8.5" text-anchor="middle" font-weight="bold" fill="#111" textLength="116.90" lengthAdjust="spacingAndGlyphs">Introns changing retention in</text>
<text x="326.00" y="172.00" font-size="8.5" text-anchor="middle" font-weight="bold" fill="#111" textLength="53.90" lengthAdjust="spacingAndGlyphs">both lineages</text>
<line x1="324.55" y1="180.02" x2="324.55" y2="286.58" stroke="#999" stroke-width="0.75"/>
<line x1="273.61" y1="233.30" x2="377.49" y2="233.30" stroke="#999" stroke-width="0.75"/>
<circle cx="317.44" cy="237.76" r="1.0" fill="#111"/>
<circle cx="319.52" cy="236.62" r="1.0" fill="#111"/>
<circle cx="318.86" cy="236.74" r="1.0" fill="#111"/>
<circle cx="310.25" cy="239.32" r="1.0" fill="#111"/>
<circle cx="321.32" cy="238.28" r="1.0" fill="#111"/>
<circle cx="320.80" cy="241.32" r="1.0" fill="#111"/>
<circle cx="315.58" cy="240.56" r="1.0" fill="#111"/>
<circle cx="316.48" cy="238.71" r="1.0" fill="#111"/>
<circle cx="310.06" cy="240.73" r="1.0" fill="#111"/>
<circle cx="313.29" cy="236.77" r="1.0" fill="#111"/>
<circle cx="319.17" cy="241.05" r="1.0" fill="#111"/>
<circle cx="319.55" cy="241.17" r="1.0" fill="#111"/>
<circle cx="317.37" cy="241.24" r="1.0" fill="#111"/>
<circle cx="309.93" cy="237.02" r="1.0" fill="#111"/>
<circle cx="312.44" cy="240.74" r="1.0" fill="#111"/>
<circle cx="321.79" cy="237.02" r="1.0" fill="#111"/>
<circle cx="313.40" cy="236.52" r="1.0" fill="#111"/>
<circle cx="316.43" cy="238.12" r="1.0" fill="#111"/>
<circle cx="312.38" cy="236.63" r="1.0" fill="#111"/>
<circle cx="318.26" cy="236.49" r="1.0" fill="#111"/>
<circle cx="320.72" cy="240.27" r="1.0" fill="#111"/>
<circle cx="314.27" cy="241.02" r="1.0" fill="#111"/>
<circle cx="311.67" cy="241.59" r="1.0" fill="#111"/>
<circle cx="313.55" cy="238.54" r="1.0" fill="#111"/>
<circle cx="309.94" cy="238.12" r="1.0" fill="#111"/>
<circle cx="313.99" cy="240.20" r="1.0" fill="#111"/>
<circle cx="319.81" cy="239.24" r="1.0" fill="#111"/>
<circle cx="313.72" cy="239.23" r="1.0" fill="#111"/>
<circle cx="318.43" cy="241.64" r="1.0" fill="#111"/>
<circle cx="321.70" cy="241.83" r="1.0" fill="#111"/>
<circle cx="318.98" cy="237.18" r="1.0" fill="#111"/>
<circle cx="310.12" cy="237.50" r="1.0" fill="#111"/>
<circle cx="314.33" cy="238.68" r="1.0" fill="#111"/>
<circle cx="310.01" cy="241.69" r="1.0" fill="#111"/>
<circle cx="312.09" cy="236.55" r="1.0" fill="#111"/>
<circle cx="312.28" cy="237.68" r="1.0" fill="#111"/>
<circle cx="321.15" cy="236.63" r="1.0" fill="#111"/>
<circle cx="314.07" cy="239.95" r="1.0" fill="#111"/>
<circle cx="316.25" cy="237.57" r="1.0" fill="#111"/>
<circle cx="311.21" cy="237.72" r="1.0" fill="#111"/>
<circle cx="319.55" cy="237.09" r="1.0" fill="#111"/>
<circle cx="310.35" cy="236.60" r="1.0" fill="#111"/>
<circle cx="311.01" cy="240.03" r="1.0" fill="#111"/>
<circle cx="317.29" cy="236.76" r="1.0" fill="#111"/>
<circle cx="314.02" cy="236.73" r="1.0" fill="#111"/>
<circle cx="316.50" cy="240.19" r="1.0" fill="#111"/>
<circle cx="313.74" cy="240.95" r="1.0" fill="#111"/>
<circle cx="310.85" cy="241.12" r="1.0" fill="#111"/>
<circle cx="318.24" cy="236.32" r="1.0" fill="#111"/>
<circle cx="311.86" cy="241.68" r="1.0" fill="#111"/>
<circle cx="321.84" cy="238.94" r="1.0" fill="#111"/>
<circle cx="314.81" cy="240.61" r="1.0" fill="#111"/>
<circle cx="317.09" cy="237.28" r="1.0" fill="#111"/>
<circle cx="315.42" cy="239.57" r="1.0" fill="#111"/>
<circle cx="310.58" cy="236.77" r="1.0" fill="#111"/>
<circle cx="310.30" cy="239.16" r="1.0" fill="#111"/>
<circle cx="320.05" cy="241.22" r="1.0" fill="#111"/>
<circle cx="318.76" cy="236.58" r="1.0" fill="#111"/>
<circle cx="317.53" cy="237.50" r="1.0" fill="#111"/>
<circle cx="311.19" cy="239.50" r="1.0" fill="#111"/>
<circle cx="318.34" cy="241.98" r="1.0" fill="#111"/>
<circle cx="314.67" cy="246.88" r="1.0" fill="#111"/>
<circle cx="307.19" cy="245.01" r="1.0" fill="#111"/>
<circle cx="314.25" cy="248.21" r="1.0" fill="#111"/>
<circle cx="302.08" cy="239.25" r="1.0" fill="#111"/>
<circle cx="309.93" cy="247.08" r="1.0" fill="#111"/>
<circle cx="309.56" cy="242.76" r="1.0" fill="#111"/>
<circle cx="310.69" cy="242.59" r="1.0" fill="#111"/>
<circle cx="311.93" cy="247.60" r="1.0" fill="#111"/>
<circle cx="316.87" cy="246.09" r="1.0" fill="#111"/>
<circle cx="321.95" cy="238.02" r="1.0" fill="#111"/>
<circle cx="312.89" cy="240.36" r="1.0" fill="#111"/>
<circle cx="306.52" cy="242.42" r="1.0" fill="#111"/>
<circle cx="320.49" cy="244.94" r="1.0" fill="#111"/>
<circle cx="318.99" cy="242.60" r="1.0" fill="#111"/>
<circle cx="319.67" cy="252.80" r="1.0" fill="#111"/>
<circle cx="319.58" cy="238.77" r="1.0" fill="#111"/>
<circle cx="314.89" cy="244.22" r="1.0" fill="#111"/>
<circle cx="317.30" cy="236.85" r="1.0" fill="#111"/>
<circle cx="321.58" cy="245.34" r="1.0" fill="#111"/>
<circle cx="314.05" cy="236.87" r="1.0" fill="#111"/>
<circle cx="317.43" cy="245.52" r="1.0" fill="#111"/>
<circle cx="320.02" cy="236.58" r="1.0" fill="#111"/>
<circle cx="313.50" cy="240.12" r="1.0" fill="#111"/>
<circle cx="320.36" cy="240.45" r="1.0" fill="#111"/>
<circle cx="319.52" cy="241.64" r="1.0" fill="#111"/>
<circle cx="315.74" cy="244.67" r="1.0" fill="#111"/>
<circle cx="304.45" cy="244.88" r="1.0" fill="#111"/>
<circle cx="319.42" cy="238.30" r="1.0" fill="#111"/>
<circle cx="318.98" cy="238.55" r="1.0" fill="#111"/>
<circle cx="315.48" cy="240.75" r="1.0" fill="#111"/>
<circle cx="310.27" cy="242.34" r="1.0" fill="#111"/>
<circle cx="317.57" cy="236.88" r="1.0" fill="#111"/>
<circle cx="310.58" cy="238.37" r="1.0" fill="#111"/>
<circle cx="314.58" cy="239.93" r="1.0" fill="#111"/>
<circle cx="320.07" cy="249.69" r="1.0" fill="#111"/>
<circle cx="316.22" cy="247.05" r="1.0" fill="#111"/>
<circle cx="313.29" cy="237.36" r="1.0" fill="#111"/>
<circle cx="309.48" cy="242.71" r="1.0" fill="#111"/>
<circle cx="313.26" cy="247.25" r="1.0" fill="#111"/>
<circle cx="316.48" cy="243.22" r="1.0" fill="#111"/>
<circle cx="318.00" cy="239.35" r="1.0" fill="#111"/>
<circle cx="308.62" cy="242.22" r="1.0" fill="#111"/>
<circle cx="316.95" cy="240.46" r="1.0" fill="#111"/>
<circle cx="304.56" cy="247.65" r="1.0" fill="#111"/>
<circle cx="316.27" cy="240.77" r="1.0" fill="#111"/>
<circle cx="319.69" cy="246.06" r="1.0" fill="#111"/>
<circle cx="316.41" cy="239.39" r="1.0" fill="#111"/>
<circle cx="313.52" cy="239.06" r="1.0" fill="#111"/>
<circle cx="319.44" cy="238.65" r="1.0" fill="#111"/>
<circle cx="321.10" cy="243.64" r="1.0" fill="#111"/>
<circle cx="310.04" cy="239.87" r="1.0" fill="#111"/>
<circle cx="318.70" cy="244.58" r="1.0" fill="#111"/>
<circle cx="317.93" cy="243.48" r="1.0" fill="#111"/>
<circle cx="315.37" cy="244.33" r="1.0" fill="#111"/>
<circle cx="306.25" cy="239.69" r="1.0" fill="#111"/>
<circle cx="317.72" cy="247.09" r="1.0" fill="#111"/>
<circle cx="307.73" cy="236.68" r="1.0" fill="#111"/>
<circle cx="309.17" cy="239.10" r="1.0" fill="#111"/>
<circle cx="319.50" cy="250.23" r="1.0" fill="#111"/>
<circle cx="305.45" cy="246.73" r="1.0" fill="#111"/>
<circle cx="318.18" cy="240.52" r="1.0" fill="#111"/>
<circle cx="313.78" cy="248.37" r="1.0" fill="#111"/>
<circle cx="320.42" cy="249.56" r="1.0" fill="#111"/>
<circle cx="308.00" cy="240.46" r="1.0" fill="#111"/>
<circle cx="306.95" cy="240.01" r="1.0" fill="#111"/>
<circle cx="316.19" cy="248.57" r="1.0" fill="#111"/>
<circle cx="320.24" cy="238.80" r="1.0" fill="#111"/>
<circle cx="310.05" cy="236.58" r="1.0" fill="#111"/>
<circle cx="310.55" cy="246.14" r="1.0" fill="#111"/>
<circle cx="313.08" cy="240.25" r="1.0" fill="#111"/>
<circle cx="321.35" cy="248.64" r="1.0" fill="#111"/>
<circle cx="305.00" cy="241.55" r="1.0" fill="#111"/>
<circle cx="316.46" cy="241.55" r="1.0" fill="#111"/>
<circle cx="308.52" cy="241.00" r="1.0" fill="#111"/>
<circle cx="316.89" cy="240.80" r="1.0" fill="#111"/>
<circle cx="310.27" cy="245.58" r="1.0" fill="#111"/>
<circle cx="319.36" cy="251.02" r="1.0" fill="#111"/>
<circle cx="316.64" cy="239.35" r="1.0" fill="#111"/>
<circle cx="318.51" cy="239.16" r="1.0" fill="#111"/>
<circle cx="316.97" cy="241.96" r="1.0" fill="#111"/>
<circle cx="319.65" cy="242.82" r="1.0" fill="#111"/>
<circle cx="314.56" cy="242.63" r="1.0" fill="#111"/>
<circle cx="314.06" cy="241.37" r="1.0" fill="#111"/>
<circle cx="305.30" cy="238.56" r="1.0" fill="#111"/>
<circle cx="321.25" cy="249.51" r="1.0" fill="#111"/>
<circle cx="315.08" cy="240.66" r="1.0" fill="#111"/>
<circle cx="306.66" cy="244.16" r="1.0" fill="#111"/>
<circle cx="319.54" cy="241.74" r="1.0" fill="#111"/>
<circle cx="315.24" cy="241.44" r="1.0" fill="#111"/>
<circle cx="321.20" cy="237.12" r="1.0" fill="#111"/>
<circle cx="309.06" cy="247.16" r="1.0" fill="#111"/>
<circle cx="320.38" cy="236.67" r="1.0" fill="#111"/>
<circle cx="315.28" cy="240.84" r="1.0" fill="#111"/>
<circle cx="315.65" cy="238.66" r="1.0" fill="#111"/>
<circle cx="315.97" cy="241.01" r="1.0" fill="#111"/>
<circle cx="304.72" cy="249.38" r="1.0" fill="#111"/>
<circle cx="315.97" cy="247.22" r="1.0" fill="#111"/>
<circle cx="318.95" cy="238.00" r="1.0" fill="#111"/>
<circle cx="317.94" cy="250.48" r="1.0" fill="#111"/>
<circle cx="317.02" cy="239.85" r="1.0" fill="#111"/>
<circle cx="312.50" cy="239.74" r="1.0" fill="#111"/>
<circle cx="308.20" cy="238.33" r="1.0" fill="#111"/>
<circle cx="313.58" cy="246.42" r="1.0" fill="#111"/>
<circle cx="310.97" cy="246.92" r="1.0" fill="#111"/>
<circle cx="317.97" cy="239.96" r="1.0" fill="#111"/>
<circle cx="313.48" cy="237.37" r="1.0" fill="#111"/>
<circle cx="317.05" cy="236.40" r="1.0" fill="#111"/>
<circle cx="317.70" cy="241.40" r="1.0" fill="#111"/>
<circle cx="316.91" cy="240.94" r="1.0" fill="#111"/>
<circle cx="316.63" cy="242.61" r="1.0" fill="#111"/>
<circle cx="307.07" cy="237.79" r="1.0" fill="#111"/>
<circle cx="319.74" cy="236.74" r="1.0" fill="#111"/>
<circle cx="312.95" cy="244.15" r="1.0" fill="#111"/>
<circle cx="319.06" cy="247.21" r="1.0" fill="#111"/>
<circle cx="315.50" cy="242.60" r="1.0" fill="#111"/>
<circle cx="311.48" cy="242.64" r="1.0" fill="#111"/>
<circle cx="319.68" cy="249.27" r="1.0" fill="#111"/>
<circle cx="316.60" cy="237.45" r="1.0" fill="#111"/>
<circle cx="319.44" cy="240.57" r="1.0" fill="#111"/>
<circle cx="281.57" cy="239.63" r="1.0" fill="#111"/>
<circle cx="297.17" cy="237.96" r="1.0" fill="#111"/>
<circle cx="296.21" cy="243.62" r="1.0" fill="#111"/>
<circle cx="293.03" cy="252.95" r="1.0" fill="#111"/>
<circle cx="295.26" cy="249.62" r="1.0" fill="#111"/>
<circle cx="308.95" cy="258.94" r="1.0" fill="#111"/>
<circle cx="317.23" cy="257.61" r="1.0" fill="#111"/>
<circle cx="312.77" cy="253.95" r="1.0" fill="#111"/>
<circle cx="317.86" cy="251.95" r="1.0" fill="#111"/>
<circle cx="301.31" cy="250.28" r="1.0" fill="#111"/>
<circle cx="300.35" cy="243.29" r="1.0" fill="#111"/>
<circle cx="299.71" cy="237.63" r="1.0" fill="#111"/>
<circle cx="339.20" cy="212.99" r="1.0" fill="#111"/>
<circle cx="329.49" cy="220.61" r="1.0" fill="#111"/>
<circle cx="333.69" cy="221.01" r="1.0" fill="#111"/>
<circle cx="327.99" cy="229.50" r="1.0" fill="#111"/>
<circle cx="329.01" cy="227.97" r="1.0" fill="#111"/>
<circle cx="329.99" cy="226.51" r="1.0" fill="#111"/>
<circle cx="331.01" cy="225.01" r="1.0" fill="#111"/>
<circle cx="331.49" cy="226.01" r="1.0" fill="#111"/>
<circle cx="329.49" cy="229.80" r="1.0" fill="#111"/>
<circle cx="330.28" cy="228.50" r="1.0" fill="#111"/>
<circle cx="328.53" cy="228.80" r="1.0" fill="#111"/>
<circle cx="317.00" cy="229.90" r="1.0" fill="#111"/>
<circle cx="320.00" cy="229.00" r="1.0" fill="#111"/>
<line x1="273.50" y1="179.52" x2="273.50" y2="287.08" stroke="#1a1a1a" stroke-width="1.2"/>
<line x1="272.90" y1="286.58" x2="378.49" y2="286.58" stroke="#1a1a1a" stroke-width="1.1"/>
<line x1="270.90" y1="286.58" x2="273.50" y2="286.58" stroke="#1a1a1a" stroke-width="0.9"/>
<text x="268.50" y="288.88" font-size="6.6" text-anchor="end" fill="#222" stroke="#222" stroke-width="0.1">−16</text>
<line x1="273.61" y1="286.58" x2="273.61" y2="288.98" stroke="#1a1a1a" stroke-width="0.9"/>
<text x="273.61" y="298.38" font-size="6.6" text-anchor="middle" fill="#222" stroke="#222" stroke-width="0.1">−16</text>
<line x1="270.90" y1="273.26" x2="273.50" y2="273.26" stroke="#1a1a1a" stroke-width="0.9"/>
<text x="268.50" y="275.56" font-size="6.6" text-anchor="end" fill="#222" stroke="#222" stroke-width="0.1">−12</text>
<line x1="286.34" y1="286.58" x2="286.34" y2="288.98" stroke="#1a1a1a" stroke-width="0.9"/>
<text x="286.34" y="298.38" font-size="6.6" text-anchor="middle" fill="#222" stroke="#222" stroke-width="0.1">−12</text>
<line x1="270.90" y1="259.94" x2="273.50" y2="259.94" stroke="#1a1a1a" stroke-width="0.9"/>
<text x="268.50" y="262.24" font-size="6.6" text-anchor="end" fill="#222" stroke="#222" stroke-width="0.1">−8</text>
<line x1="299.08" y1="286.58" x2="299.08" y2="288.98" stroke="#1a1a1a" stroke-width="0.9"/>
<text x="299.08" y="298.38" font-size="6.6" text-anchor="middle" fill="#222" stroke="#222" stroke-width="0.1">−8</text>
<line x1="270.90" y1="246.62" x2="273.50" y2="246.62" stroke="#1a1a1a" stroke-width="0.9"/>
<text x="268.50" y="248.92" font-size="6.6" text-anchor="end" fill="#222" stroke="#222" stroke-width="0.1">−4</text>
<line x1="311.81" y1="286.58" x2="311.81" y2="288.98" stroke="#1a1a1a" stroke-width="0.9"/>
<text x="311.81" y="298.38" font-size="6.6" text-anchor="middle" fill="#222" stroke="#222" stroke-width="0.1">−4</text>
<line x1="270.90" y1="233.30" x2="273.50" y2="233.30" stroke="#1a1a1a" stroke-width="0.9"/>
<text x="268.50" y="235.60" font-size="6.6" text-anchor="end" fill="#222" stroke="#222" stroke-width="0.1">0</text>
<line x1="324.55" y1="286.58" x2="324.55" y2="288.98" stroke="#1a1a1a" stroke-width="0.9"/>
<text x="324.55" y="298.38" font-size="6.6" text-anchor="middle" fill="#222" stroke="#222" stroke-width="0.1">0</text>
<line x1="270.90" y1="219.98" x2="273.50" y2="219.98" stroke="#1a1a1a" stroke-width="0.9"/>
<text x="268.50" y="222.28" font-size="6.6" text-anchor="end" fill="#222" stroke="#222" stroke-width="0.1">4</text>
<line x1="337.29" y1="286.58" x2="337.29" y2="288.98" stroke="#1a1a1a" stroke-width="0.9"/>
<text x="337.29" y="298.38" font-size="6.6" text-anchor="middle" fill="#222" stroke="#222" stroke-width="0.1">4</text>
<line x1="270.90" y1="206.66" x2="273.50" y2="206.66" stroke="#1a1a1a" stroke-width="0.9"/>
<text x="268.50" y="208.96" font-size="6.6" text-anchor="end" fill="#222" stroke="#222" stroke-width="0.1">8</text>
<line x1="350.02" y1="286.58" x2="350.02" y2="288.98" stroke="#1a1a1a" stroke-width="0.9"/>
<text x="350.02" y="298.38" font-size="6.6" text-anchor="middle" fill="#222" stroke="#222" stroke-width="0.1">8</text>
<line x1="270.90" y1="193.34" x2="273.50" y2="193.34" stroke="#1a1a1a" stroke-width="0.9"/>
<text x="268.50" y="195.64" font-size="6.6" text-anchor="end" fill="#222" stroke="#222" stroke-width="0.1">12</text>
<line x1="362.76" y1="286.58" x2="362.76" y2="288.98" stroke="#1a1a1a" stroke-width="0.9"/>
<text x="362.76" y="298.38" font-size="6.6" text-anchor="middle" fill="#222" stroke="#222" stroke-width="0.1">12</text>
<line x1="270.90" y1="180.02" x2="273.50" y2="180.02" stroke="#1a1a1a" stroke-width="0.9"/>
<text x="268.50" y="182.32" font-size="6.6" text-anchor="end" fill="#222" stroke="#222" stroke-width="0.1">16</text>
<line x1="375.49" y1="286.58" x2="375.49" y2="288.98" stroke="#1a1a1a" stroke-width="0.9"/>
<text x="375.49" y="298.38" font-size="6.6" text-anchor="middle" fill="#222" stroke="#222" stroke-width="0.1">16</text>
<text x="324.70" y="189.80" font-size="5.8" text-anchor="middle" fill="#151515" stroke="#151515" stroke-width="0.06" textLength="70.80" lengthAdjust="spacingAndGlyphs">Spearman correlation = 0.438</text>
<text x="324.8" y="197.4" font-size="5.8" text-anchor="middle" fill="#151515" stroke="#151515" stroke-width="0.06" textLength="30.4" lengthAdjust="spacingAndGlyphs"><tspan font-style="italic">P</tspan> = 4.23e-11</text>
<text x="0" y="0" font-size="8.5" text-anchor="middle" fill="#1e1e1e" stroke="#1e1e1e" stroke-width="0.15" transform="translate(247.6 234.5) rotate(-90)" textLength="86" lengthAdjust="spacingAndGlyphs">Log<tspan font-size="6" dy="1.8">2</tspan><tspan dy="-1.8"> IR change (Ery / MEP)</tspan></text>
<text x="323.8" y="309.4" font-size="8.5" text-anchor="middle" fill="#1e1e1e" stroke="#1e1e1e" stroke-width="0.15" textLength="90.8" lengthAdjust="spacingAndGlyphs">Log<tspan font-size="6" dy="1.8">2</tspan><tspan dy="-1.8"> IR change (MK / MEP)</tspan></text>
<rect x="0" y="0" width="520" height="1.15" fill="#1a1a1a"/><rect x="0" y="0" width="1.25" height="323" fill="#1a1a1a"/><rect x="518.6" y="0" width="1.4" height="323" fill="#1a1a1a"/><rect x="0" y="321.4" width="520" height="1.6" fill="#1a1a1a"/>
</svg>
</body></html>
